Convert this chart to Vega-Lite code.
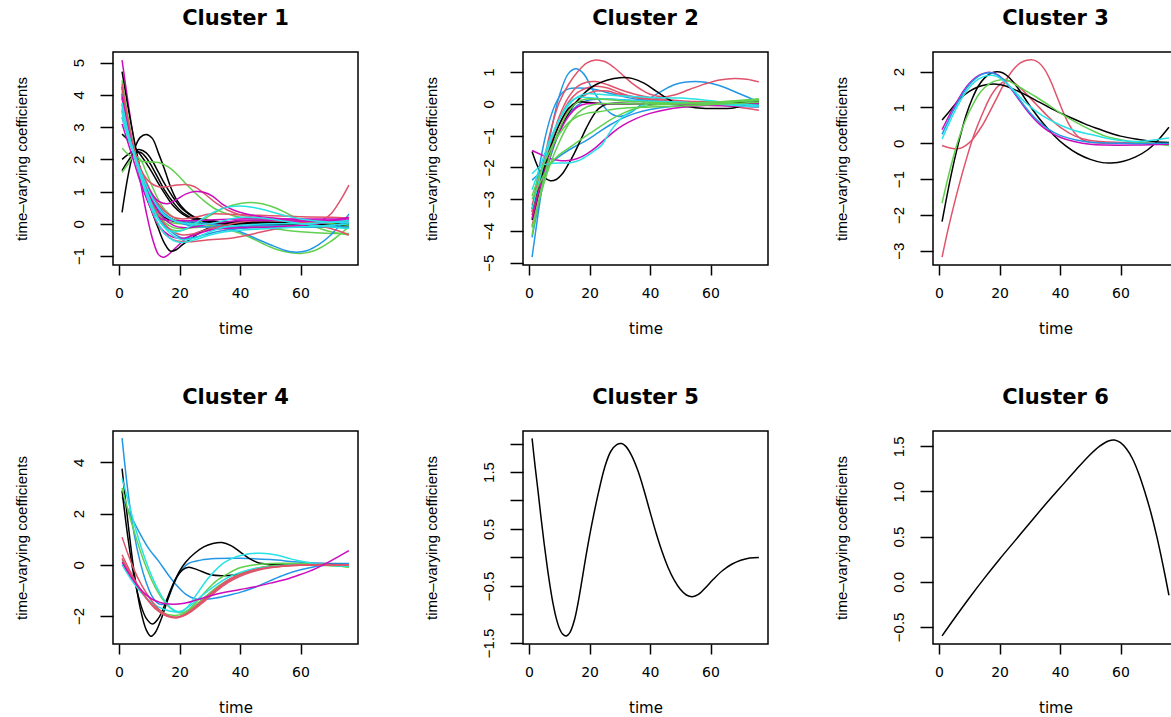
{
"$schema": "https://vega.github.io/schema/vega-lite/v6.json",
"autosize": {"type": "pad"},
"padding": {"left": 13, "top": 7, "right": 5, "bottom": 5},
"background": "white",
"columns": 3,
"bounds": "flush",
"spacing": {"row": 166, "column": 165},
"config": {
  "view": {"stroke": "#000", "strokeWidth": 1.5},
  "title": {"font": "DejaVu Sans", "fontSize": 21, "fontWeight": "bold", "color": "#000", "offset": 23, "frame": "group", "anchor": "middle", "baseline": "alphabetic"},
  "axis": {"grid": false, "domain": false, "tickColor": "#000", "tickWidth": 1.5, "labelColor": "#000", "titleColor": "#000", "labelFlush": false, "labelOverlap": false, "titleFontWeight": "normal"},
  "axisX": {"tickSize": 10, "labelPadding": 11, "labelFont": "DejaVu Sans", "labelFontSize": 14, "titleFont": "DejaVu Sans", "titleFontSize": 15, "titlePadding": 21, "minExtent": 35, "maxExtent": 35},
  "axisY": {"tickSize": 13, "labelPadding": 14, "labelAngle": -90, "labelAlign": "center", "labelBaseline": "bottom", "labelFont": "Liberation Sans", "labelFontSize": 15, "titleFont": "Liberation Sans", "titleFontSize": 15, "titlePadding": 39, "minExtent": 45, "maxExtent": 45}
},
"data": {"values": [
{"p":1,"s":"1M1","k":"m","t":1,"v":5.08},{"p":1,"s":"1M1","k":"m","t":3,"v":3.75},{"p":1,"s":"1M1","k":"m","t":5,"v":2.5},{"p":1,"s":"1M1","k":"m","t":7,"v":1.35},{"p":1,"s":"1M1","k":"m","t":9,"v":0.35},{"p":1,"s":"1M1","k":"m","t":11,"v":-0.45},{"p":1,"s":"1M1","k":"m","t":13,"v":-0.95},{"p":1,"s":"1M1","k":"m","t":14.5,"v":-1.04},{"p":1,"s":"1M1","k":"m","t":16,"v":-0.98},{"p":1,"s":"1M1","k":"m","t":19,"v":-0.72},{"p":1,"s":"1M1","k":"m","t":22,"v":-0.47},{"p":1,"s":"1M1","k":"m","t":26,"v":-0.27},{"p":1,"s":"1M1","k":"m","t":30,"v":-0.18},{"p":1,"s":"1M1","k":"m","t":40,"v":-0.1},{"p":1,"s":"1M1","k":"m","t":50,"v":-0.05},{"p":1,"s":"1M1","k":"m","t":60,"v":0},{"p":1,"s":"1M1","k":"m","t":70,"v":0.05},{"p":1,"s":"1M1","k":"m","t":76,"v":0.05},
{"p":1,"s":"1K1","k":"k","t":1,"v":0.35},{"p":1,"s":"1K1","k":"k","t":3,"v":1.5},{"p":1,"s":"1K1","k":"k","t":5,"v":2.3},{"p":1,"s":"1K1","k":"k","t":7,"v":2.68},{"p":1,"s":"1K1","k":"k","t":9,"v":2.77},{"p":1,"s":"1K1","k":"k","t":11,"v":2.65},{"p":1,"s":"1K1","k":"k","t":13,"v":2.2},{"p":1,"s":"1K1","k":"k","t":15,"v":1.7},{"p":1,"s":"1K1","k":"k","t":17,"v":1.15},{"p":1,"s":"1K1","k":"k","t":19,"v":0.75},{"p":1,"s":"1K1","k":"k","t":22,"v":0.4},{"p":1,"s":"1K1","k":"k","t":26,"v":0.15},{"p":1,"s":"1K1","k":"k","t":30,"v":0.05},{"p":1,"s":"1K1","k":"k","t":40,"v":0},{"p":1,"s":"1K1","k":"k","t":50,"v":0},{"p":1,"s":"1K1","k":"k","t":60,"v":0},{"p":1,"s":"1K1","k":"k","t":70,"v":-0.03},{"p":1,"s":"1K1","k":"k","t":76,"v":-0.05},
{"p":1,"s":"1K2","k":"k","t":1,"v":4.72},{"p":1,"s":"1K2","k":"k","t":3,"v":3.6},{"p":1,"s":"1K2","k":"k","t":5,"v":2.6},{"p":1,"s":"1K2","k":"k","t":7,"v":1.7},{"p":1,"s":"1K2","k":"k","t":9,"v":0.95},{"p":1,"s":"1K2","k":"k","t":11,"v":0.35},{"p":1,"s":"1K2","k":"k","t":13,"v":-0.15},{"p":1,"s":"1K2","k":"k","t":15,"v":-0.6},{"p":1,"s":"1K2","k":"k","t":17,"v":-0.85},{"p":1,"s":"1K2","k":"k","t":19,"v":-0.8},{"p":1,"s":"1K2","k":"k","t":21,"v":-0.65},{"p":1,"s":"1K2","k":"k","t":24,"v":-0.45},{"p":1,"s":"1K2","k":"k","t":27,"v":-0.25},{"p":1,"s":"1K2","k":"k","t":30,"v":-0.12},{"p":1,"s":"1K2","k":"k","t":35,"v":-0.05},{"p":1,"s":"1K2","k":"k","t":40,"v":0},{"p":1,"s":"1K2","k":"k","t":50,"v":0},{"p":1,"s":"1K2","k":"k","t":60,"v":0},{"p":1,"s":"1K2","k":"k","t":70,"v":0},{"p":1,"s":"1K2","k":"k","t":76,"v":-0.02},
{"p":1,"s":"1K3","k":"k","t":1,"v":2.0},{"p":1,"s":"1K3","k":"k","t":3,"v":2.15},{"p":1,"s":"1K3","k":"k","t":5,"v":2.27},{"p":1,"s":"1K3","k":"k","t":7,"v":2.3},{"p":1,"s":"1K3","k":"k","t":9,"v":2.2},{"p":1,"s":"1K3","k":"k","t":11,"v":1.95},{"p":1,"s":"1K3","k":"k","t":13,"v":1.6},{"p":1,"s":"1K3","k":"k","t":15,"v":1.25},{"p":1,"s":"1K3","k":"k","t":18,"v":0.8},{"p":1,"s":"1K3","k":"k","t":21,"v":0.45},{"p":1,"s":"1K3","k":"k","t":25,"v":0.2},{"p":1,"s":"1K3","k":"k","t":30,"v":0.1},{"p":1,"s":"1K3","k":"k","t":35,"v":0.05},{"p":1,"s":"1K3","k":"k","t":40,"v":0.05},{"p":1,"s":"1K3","k":"k","t":50,"v":0.05},{"p":1,"s":"1K3","k":"k","t":60,"v":0.05},{"p":1,"s":"1K3","k":"k","t":70,"v":0},{"p":1,"s":"1K3","k":"k","t":76,"v":-0.05},
{"p":1,"s":"1K4","k":"k","t":1,"v":2.78},{"p":1,"s":"1K4","k":"k","t":3,"v":2.6},{"p":1,"s":"1K4","k":"k","t":5,"v":2.38},{"p":1,"s":"1K4","k":"k","t":7,"v":2.15},{"p":1,"s":"1K4","k":"k","t":9,"v":1.88},{"p":1,"s":"1K4","k":"k","t":11,"v":1.58},{"p":1,"s":"1K4","k":"k","t":13,"v":1.25},{"p":1,"s":"1K4","k":"k","t":15,"v":0.95},{"p":1,"s":"1K4","k":"k","t":18,"v":0.55},{"p":1,"s":"1K4","k":"k","t":21,"v":0.3},{"p":1,"s":"1K4","k":"k","t":25,"v":0.12},{"p":1,"s":"1K4","k":"k","t":30,"v":0.05},{"p":1,"s":"1K4","k":"k","t":35,"v":0.05},{"p":1,"s":"1K4","k":"k","t":40,"v":0.05},{"p":1,"s":"1K4","k":"k","t":50,"v":0.05},{"p":1,"s":"1K4","k":"k","t":60,"v":0},{"p":1,"s":"1K4","k":"k","t":70,"v":-0.05},{"p":1,"s":"1K4","k":"k","t":76,"v":-0.1},
{"p":1,"s":"1K5","k":"k","t":1,"v":1.65},{"p":1,"s":"1K5","k":"k","t":3,"v":1.95},{"p":1,"s":"1K5","k":"k","t":5,"v":2.18},{"p":1,"s":"1K5","k":"k","t":7,"v":2.22},{"p":1,"s":"1K5","k":"k","t":9,"v":2.05},{"p":1,"s":"1K5","k":"k","t":11,"v":1.75},{"p":1,"s":"1K5","k":"k","t":13,"v":1.4},{"p":1,"s":"1K5","k":"k","t":15,"v":1.05},{"p":1,"s":"1K5","k":"k","t":18,"v":0.65},{"p":1,"s":"1K5","k":"k","t":21,"v":0.35},{"p":1,"s":"1K5","k":"k","t":25,"v":0.15},{"p":1,"s":"1K5","k":"k","t":30,"v":0.08},{"p":1,"s":"1K5","k":"k","t":35,"v":0.05},{"p":1,"s":"1K5","k":"k","t":40,"v":0.02},{"p":1,"s":"1K5","k":"k","t":50,"v":0},{"p":1,"s":"1K5","k":"k","t":60,"v":0},{"p":1,"s":"1K5","k":"k","t":70,"v":0},{"p":1,"s":"1K5","k":"k","t":76,"v":0},
{"p":1,"s":"1K6","k":"k","t":1,"v":4.02},{"p":1,"s":"1K6","k":"k","t":3,"v":3.05},{"p":1,"s":"1K6","k":"k","t":5,"v":2.3},{"p":1,"s":"1K6","k":"k","t":7,"v":1.7},{"p":1,"s":"1K6","k":"k","t":9,"v":1.2},{"p":1,"s":"1K6","k":"k","t":11,"v":0.8},{"p":1,"s":"1K6","k":"k","t":13,"v":0.5},{"p":1,"s":"1K6","k":"k","t":15,"v":0.3},{"p":1,"s":"1K6","k":"k","t":18,"v":0.12},{"p":1,"s":"1K6","k":"k","t":21,"v":0.05},{"p":1,"s":"1K6","k":"k","t":25,"v":0.02},{"p":1,"s":"1K6","k":"k","t":30,"v":0},{"p":1,"s":"1K6","k":"k","t":35,"v":0},{"p":1,"s":"1K6","k":"k","t":40,"v":0},{"p":1,"s":"1K6","k":"k","t":50,"v":0},{"p":1,"s":"1K6","k":"k","t":60,"v":-0.05},{"p":1,"s":"1K6","k":"k","t":70,"v":-0.05},{"p":1,"s":"1K6","k":"k","t":76,"v":-0.08},
{"p":1,"s":"1K7","k":"k","t":1,"v":4.25},{"p":1,"s":"1K7","k":"k","t":3,"v":3.15},{"p":1,"s":"1K7","k":"k","t":5,"v":2.3},{"p":1,"s":"1K7","k":"k","t":7,"v":1.65},{"p":1,"s":"1K7","k":"k","t":9,"v":1.1},{"p":1,"s":"1K7","k":"k","t":11,"v":0.68},{"p":1,"s":"1K7","k":"k","t":13,"v":0.38},{"p":1,"s":"1K7","k":"k","t":15,"v":0.2},{"p":1,"s":"1K7","k":"k","t":18,"v":0.08},{"p":1,"s":"1K7","k":"k","t":21,"v":0.05},{"p":1,"s":"1K7","k":"k","t":30,"v":0.05},{"p":1,"s":"1K7","k":"k","t":40,"v":0.05},{"p":1,"s":"1K7","k":"k","t":50,"v":0.05},{"p":1,"s":"1K7","k":"k","t":60,"v":0.05},{"p":1,"s":"1K7","k":"k","t":70,"v":0.05},{"p":1,"s":"1K7","k":"k","t":76,"v":0},
{"p":1,"s":"1G1","k":"g","t":1,"v":2.34},{"p":1,"s":"1G1","k":"g","t":4,"v":2.08},{"p":1,"s":"1G1","k":"g","t":7,"v":1.95},{"p":1,"s":"1G1","k":"g","t":10,"v":1.92},{"p":1,"s":"1G1","k":"g","t":13,"v":1.9},{"p":1,"s":"1G1","k":"g","t":16,"v":1.78},{"p":1,"s":"1G1","k":"g","t":19,"v":1.55},{"p":1,"s":"1G1","k":"g","t":22,"v":1.25},{"p":1,"s":"1G1","k":"g","t":25,"v":0.97},{"p":1,"s":"1G1","k":"g","t":28,"v":0.72},{"p":1,"s":"1G1","k":"g","t":32,"v":0.45},{"p":1,"s":"1G1","k":"g","t":36,"v":0.3},{"p":1,"s":"1G1","k":"g","t":40,"v":0.2},{"p":1,"s":"1G1","k":"g","t":50,"v":0.1},{"p":1,"s":"1G1","k":"g","t":60,"v":0.05},{"p":1,"s":"1G1","k":"g","t":70,"v":0},{"p":1,"s":"1G1","k":"g","t":76,"v":-0.05},
{"p":1,"s":"1G2","k":"g","t":1,"v":1.6},{"p":1,"s":"1G2","k":"g","t":3,"v":1.85},{"p":1,"s":"1G2","k":"g","t":5,"v":2.1},{"p":1,"s":"1G2","k":"g","t":7,"v":2.0},{"p":1,"s":"1G2","k":"g","t":9,"v":1.6},{"p":1,"s":"1G2","k":"g","t":11,"v":1.15},{"p":1,"s":"1G2","k":"g","t":13,"v":0.75},{"p":1,"s":"1G2","k":"g","t":15,"v":0.45},{"p":1,"s":"1G2","k":"g","t":18,"v":0.2},{"p":1,"s":"1G2","k":"g","t":21,"v":0.05},{"p":1,"s":"1G2","k":"g","t":25,"v":-0.05},{"p":1,"s":"1G2","k":"g","t":30,"v":-0.1},{"p":1,"s":"1G2","k":"g","t":40,"v":-0.1},{"p":1,"s":"1G2","k":"g","t":50,"v":-0.1},{"p":1,"s":"1G2","k":"g","t":60,"v":-0.1},{"p":1,"s":"1G2","k":"g","t":70,"v":-0.1},{"p":1,"s":"1G2","k":"g","t":76,"v":-0.1},
{"p":1,"s":"1G3","k":"g","t":1,"v":4.45},{"p":1,"s":"1G3","k":"g","t":3,"v":3.3},{"p":1,"s":"1G3","k":"g","t":5,"v":2.35},{"p":1,"s":"1G3","k":"g","t":7,"v":1.6},{"p":1,"s":"1G3","k":"g","t":9,"v":1.0},{"p":1,"s":"1G3","k":"g","t":11,"v":0.5},{"p":1,"s":"1G3","k":"g","t":13,"v":0.15},{"p":1,"s":"1G3","k":"g","t":15,"v":-0.05},{"p":1,"s":"1G3","k":"g","t":18,"v":-0.2},{"p":1,"s":"1G3","k":"g","t":21,"v":-0.2},{"p":1,"s":"1G3","k":"g","t":25,"v":-0.05},{"p":1,"s":"1G3","k":"g","t":30,"v":0.25},{"p":1,"s":"1G3","k":"g","t":35,"v":0.5},{"p":1,"s":"1G3","k":"g","t":40,"v":0.63},{"p":1,"s":"1G3","k":"g","t":45,"v":0.65},{"p":1,"s":"1G3","k":"g","t":50,"v":0.55},{"p":1,"s":"1G3","k":"g","t":55,"v":0.35},{"p":1,"s":"1G3","k":"g","t":60,"v":0.1},{"p":1,"s":"1G3","k":"g","t":65,"v":-0.1},{"p":1,"s":"1G3","k":"g","t":70,"v":-0.25},{"p":1,"s":"1G3","k":"g","t":76,"v":-0.35},
{"p":1,"s":"1G4","k":"g","t":1,"v":4.3},{"p":1,"s":"1G4","k":"g","t":3,"v":3.2},{"p":1,"s":"1G4","k":"g","t":5,"v":2.3},{"p":1,"s":"1G4","k":"g","t":7,"v":1.6},{"p":1,"s":"1G4","k":"g","t":9,"v":1.05},{"p":1,"s":"1G4","k":"g","t":11,"v":0.6},{"p":1,"s":"1G4","k":"g","t":13,"v":0.3},{"p":1,"s":"1G4","k":"g","t":15,"v":0.12},{"p":1,"s":"1G4","k":"g","t":18,"v":0.02},{"p":1,"s":"1G4","k":"g","t":21,"v":0},{"p":1,"s":"1G4","k":"g","t":25,"v":0},{"p":1,"s":"1G4","k":"g","t":30,"v":-0.05},{"p":1,"s":"1G4","k":"g","t":35,"v":-0.15},{"p":1,"s":"1G4","k":"g","t":40,"v":-0.3},{"p":1,"s":"1G4","k":"g","t":45,"v":-0.5},{"p":1,"s":"1G4","k":"g","t":50,"v":-0.72},{"p":1,"s":"1G4","k":"g","t":55,"v":-0.87},{"p":1,"s":"1G4","k":"g","t":60,"v":-0.92},{"p":1,"s":"1G4","k":"g","t":65,"v":-0.82},{"p":1,"s":"1G4","k":"g","t":70,"v":-0.55},{"p":1,"s":"1G4","k":"g","t":74,"v":-0.25},{"p":1,"s":"1G4","k":"g","t":76,"v":-0.1},
{"p":1,"s":"1G5","k":"g","t":1,"v":4.0},{"p":1,"s":"1G5","k":"g","t":3,"v":3.05},{"p":1,"s":"1G5","k":"g","t":5,"v":2.3},{"p":1,"s":"1G5","k":"g","t":7,"v":1.65},{"p":1,"s":"1G5","k":"g","t":9,"v":1.1},{"p":1,"s":"1G5","k":"g","t":11,"v":0.65},{"p":1,"s":"1G5","k":"g","t":13,"v":0.3},{"p":1,"s":"1G5","k":"g","t":15,"v":0.05},{"p":1,"s":"1G5","k":"g","t":18,"v":-0.12},{"p":1,"s":"1G5","k":"g","t":21,"v":-0.15},{"p":1,"s":"1G5","k":"g","t":25,"v":-0.12},{"p":1,"s":"1G5","k":"g","t":30,"v":-0.08},{"p":1,"s":"1G5","k":"g","t":40,"v":-0.1},{"p":1,"s":"1G5","k":"g","t":50,"v":-0.15},{"p":1,"s":"1G5","k":"g","t":60,"v":-0.25},{"p":1,"s":"1G5","k":"g","t":70,"v":-0.3},{"p":1,"s":"1G5","k":"g","t":76,"v":-0.3},
{"p":1,"s":"1B1","k":"b","t":1,"v":3.9},{"p":1,"s":"1B1","k":"b","t":3,"v":2.95},{"p":1,"s":"1B1","k":"b","t":5,"v":2.25},{"p":1,"s":"1B1","k":"b","t":7,"v":1.65},{"p":1,"s":"1B1","k":"b","t":9,"v":1.15},{"p":1,"s":"1B1","k":"b","t":11,"v":0.75},{"p":1,"s":"1B1","k":"b","t":13,"v":0.45},{"p":1,"s":"1B1","k":"b","t":15,"v":0.25},{"p":1,"s":"1B1","k":"b","t":18,"v":0.1},{"p":1,"s":"1B1","k":"b","t":21,"v":0.05},{"p":1,"s":"1B1","k":"b","t":25,"v":0.05},{"p":1,"s":"1B1","k":"b","t":30,"v":0},{"p":1,"s":"1B1","k":"b","t":35,"v":-0.1},{"p":1,"s":"1B1","k":"b","t":40,"v":-0.25},{"p":1,"s":"1B1","k":"b","t":45,"v":-0.45},{"p":1,"s":"1B1","k":"b","t":50,"v":-0.65},{"p":1,"s":"1B1","k":"b","t":55,"v":-0.83},{"p":1,"s":"1B1","k":"b","t":58,"v":-0.88},{"p":1,"s":"1B1","k":"b","t":62,"v":-0.84},{"p":1,"s":"1B1","k":"b","t":66,"v":-0.65},{"p":1,"s":"1B1","k":"b","t":70,"v":-0.35},{"p":1,"s":"1B1","k":"b","t":73,"v":-0.05},{"p":1,"s":"1B1","k":"b","t":76,"v":0.3},
{"p":1,"s":"1B2","k":"b","t":1,"v":4.1},{"p":1,"s":"1B2","k":"b","t":3,"v":3.0},{"p":1,"s":"1B2","k":"b","t":5,"v":2.2},{"p":1,"s":"1B2","k":"b","t":7,"v":1.55},{"p":1,"s":"1B2","k":"b","t":9,"v":1.0},{"p":1,"s":"1B2","k":"b","t":11,"v":0.55},{"p":1,"s":"1B2","k":"b","t":13,"v":0.2},{"p":1,"s":"1B2","k":"b","t":15,"v":-0.05},{"p":1,"s":"1B2","k":"b","t":18,"v":-0.3},{"p":1,"s":"1B2","k":"b","t":21,"v":-0.45},{"p":1,"s":"1B2","k":"b","t":25,"v":-0.42},{"p":1,"s":"1B2","k":"b","t":30,"v":-0.3},{"p":1,"s":"1B2","k":"b","t":35,"v":-0.2},{"p":1,"s":"1B2","k":"b","t":40,"v":-0.15},{"p":1,"s":"1B2","k":"b","t":50,"v":-0.1},{"p":1,"s":"1B2","k":"b","t":60,"v":-0.1},{"p":1,"s":"1B2","k":"b","t":70,"v":-0.05},{"p":1,"s":"1B2","k":"b","t":76,"v":0.05},
{"p":1,"s":"1B3","k":"b","t":1,"v":3.55},{"p":1,"s":"1B3","k":"b","t":3,"v":2.75},{"p":1,"s":"1B3","k":"b","t":5,"v":2.2},{"p":1,"s":"1B3","k":"b","t":7,"v":1.7},{"p":1,"s":"1B3","k":"b","t":9,"v":1.25},{"p":1,"s":"1B3","k":"b","t":11,"v":0.85},{"p":1,"s":"1B3","k":"b","t":13,"v":0.55},{"p":1,"s":"1B3","k":"b","t":15,"v":0.32},{"p":1,"s":"1B3","k":"b","t":18,"v":0.12},{"p":1,"s":"1B3","k":"b","t":21,"v":0},{"p":1,"s":"1B3","k":"b","t":25,"v":-0.08},{"p":1,"s":"1B3","k":"b","t":30,"v":-0.1},{"p":1,"s":"1B3","k":"b","t":40,"v":-0.08},{"p":1,"s":"1B3","k":"b","t":50,"v":-0.05},{"p":1,"s":"1B3","k":"b","t":60,"v":-0.1},{"p":1,"s":"1B3","k":"b","t":70,"v":-0.1},{"p":1,"s":"1B3","k":"b","t":76,"v":-0.1},
{"p":1,"s":"1R1","k":"r","t":1,"v":4.2},{"p":1,"s":"1R1","k":"r","t":3,"v":3.1},{"p":1,"s":"1R1","k":"r","t":5,"v":2.2},{"p":1,"s":"1R1","k":"r","t":7,"v":1.45},{"p":1,"s":"1R1","k":"r","t":9,"v":0.85},{"p":1,"s":"1R1","k":"r","t":11,"v":0.35},{"p":1,"s":"1R1","k":"r","t":13,"v":-0.05},{"p":1,"s":"1R1","k":"r","t":15,"v":-0.3},{"p":1,"s":"1R1","k":"r","t":18,"v":-0.5},{"p":1,"s":"1R1","k":"r","t":21,"v":-0.55},{"p":1,"s":"1R1","k":"r","t":25,"v":-0.55},{"p":1,"s":"1R1","k":"r","t":30,"v":-0.5},{"p":1,"s":"1R1","k":"r","t":37,"v":-0.45},{"p":1,"s":"1R1","k":"r","t":45,"v":-0.3},{"p":1,"s":"1R1","k":"r","t":55,"v":-0.1},{"p":1,"s":"1R1","k":"r","t":62,"v":0},{"p":1,"s":"1R1","k":"r","t":67,"v":0.1},{"p":1,"s":"1R1","k":"r","t":70,"v":0.3},{"p":1,"s":"1R1","k":"r","t":73,"v":0.7},{"p":1,"s":"1R1","k":"r","t":76,"v":1.2},
{"p":1,"s":"1R2","k":"r","t":1,"v":3.5},{"p":1,"s":"1R2","k":"r","t":3,"v":2.7},{"p":1,"s":"1R2","k":"r","t":5,"v":2.15},{"p":1,"s":"1R2","k":"r","t":7,"v":1.7},{"p":1,"s":"1R2","k":"r","t":10,"v":1.3},{"p":1,"s":"1R2","k":"r","t":13,"v":1.15},{"p":1,"s":"1R2","k":"r","t":16,"v":1.15},{"p":1,"s":"1R2","k":"r","t":19,"v":1.2},{"p":1,"s":"1R2","k":"r","t":22,"v":1.22},{"p":1,"s":"1R2","k":"r","t":25,"v":1.15},{"p":1,"s":"1R2","k":"r","t":28,"v":0.95},{"p":1,"s":"1R2","k":"r","t":32,"v":0.65},{"p":1,"s":"1R2","k":"r","t":36,"v":0.42},{"p":1,"s":"1R2","k":"r","t":40,"v":0.28},{"p":1,"s":"1R2","k":"r","t":50,"v":0.15},{"p":1,"s":"1R2","k":"r","t":60,"v":0.1},{"p":1,"s":"1R2","k":"r","t":70,"v":0.05},{"p":1,"s":"1R2","k":"r","t":76,"v":0.05},
{"p":1,"s":"1R3","k":"r","t":1,"v":4.35},{"p":1,"s":"1R3","k":"r","t":3,"v":3.2},{"p":1,"s":"1R3","k":"r","t":5,"v":2.3},{"p":1,"s":"1R3","k":"r","t":7,"v":1.6},{"p":1,"s":"1R3","k":"r","t":9,"v":1.05},{"p":1,"s":"1R3","k":"r","t":11,"v":0.6},{"p":1,"s":"1R3","k":"r","t":13,"v":0.25},{"p":1,"s":"1R3","k":"r","t":15,"v":0},{"p":1,"s":"1R3","k":"r","t":18,"v":-0.25},{"p":1,"s":"1R3","k":"r","t":21,"v":-0.35},{"p":1,"s":"1R3","k":"r","t":25,"v":-0.3},{"p":1,"s":"1R3","k":"r","t":30,"v":-0.15},{"p":1,"s":"1R3","k":"r","t":35,"v":-0.05},{"p":1,"s":"1R3","k":"r","t":40,"v":0.05},{"p":1,"s":"1R3","k":"r","t":50,"v":0.1},{"p":1,"s":"1R3","k":"r","t":60,"v":0.05},{"p":1,"s":"1R3","k":"r","t":70,"v":-0.15},{"p":1,"s":"1R3","k":"r","t":76,"v":-0.35},
{"p":1,"s":"1R4","k":"r","t":1,"v":3.9},{"p":1,"s":"1R4","k":"r","t":3,"v":3.0},{"p":1,"s":"1R4","k":"r","t":5,"v":2.3},{"p":1,"s":"1R4","k":"r","t":7,"v":1.75},{"p":1,"s":"1R4","k":"r","t":9,"v":1.3},{"p":1,"s":"1R4","k":"r","t":11,"v":0.92},{"p":1,"s":"1R4","k":"r","t":13,"v":0.62},{"p":1,"s":"1R4","k":"r","t":15,"v":0.4},{"p":1,"s":"1R4","k":"r","t":18,"v":0.2},{"p":1,"s":"1R4","k":"r","t":21,"v":0.15},{"p":1,"s":"1R4","k":"r","t":25,"v":0.2},{"p":1,"s":"1R4","k":"r","t":30,"v":0.3},{"p":1,"s":"1R4","k":"r","t":35,"v":0.3},{"p":1,"s":"1R4","k":"r","t":40,"v":0.28},{"p":1,"s":"1R4","k":"r","t":50,"v":0.25},{"p":1,"s":"1R4","k":"r","t":60,"v":0.22},{"p":1,"s":"1R4","k":"r","t":70,"v":0.2},{"p":1,"s":"1R4","k":"r","t":76,"v":0.18},
{"p":1,"s":"1M2","k":"m","t":1,"v":3.3},{"p":1,"s":"1M2","k":"m","t":3,"v":2.7},{"p":1,"s":"1M2","k":"m","t":5,"v":2.15},{"p":1,"s":"1M2","k":"m","t":7,"v":1.6},{"p":1,"s":"1M2","k":"m","t":10,"v":1.05},{"p":1,"s":"1M2","k":"m","t":13,"v":0.7},{"p":1,"s":"1M2","k":"m","t":16,"v":0.62},{"p":1,"s":"1M2","k":"m","t":19,"v":0.75},{"p":1,"s":"1M2","k":"m","t":22,"v":0.92},{"p":1,"s":"1M2","k":"m","t":25,"v":1.0},{"p":1,"s":"1M2","k":"m","t":28,"v":0.98},{"p":1,"s":"1M2","k":"m","t":31,"v":0.85},{"p":1,"s":"1M2","k":"m","t":34,"v":0.62},{"p":1,"s":"1M2","k":"m","t":38,"v":0.42},{"p":1,"s":"1M2","k":"m","t":45,"v":0.25},{"p":1,"s":"1M2","k":"m","t":55,"v":0.15},{"p":1,"s":"1M2","k":"m","t":65,"v":0.12},{"p":1,"s":"1M2","k":"m","t":76,"v":0.1},
{"p":1,"s":"1M3","k":"m","t":1,"v":3.1},{"p":1,"s":"1M3","k":"m","t":3,"v":2.5},{"p":1,"s":"1M3","k":"m","t":5,"v":1.9},{"p":1,"s":"1M3","k":"m","t":7,"v":1.3},{"p":1,"s":"1M3","k":"m","t":9,"v":0.8},{"p":1,"s":"1M3","k":"m","t":11,"v":0.4},{"p":1,"s":"1M3","k":"m","t":13,"v":0.2},{"p":1,"s":"1M3","k":"m","t":15,"v":0.12},{"p":1,"s":"1M3","k":"m","t":18,"v":0.1},{"p":1,"s":"1M3","k":"m","t":25,"v":0.1},{"p":1,"s":"1M3","k":"m","t":30,"v":0.12},{"p":1,"s":"1M3","k":"m","t":40,"v":0.15},{"p":1,"s":"1M3","k":"m","t":50,"v":0.15},{"p":1,"s":"1M3","k":"m","t":60,"v":0.15},{"p":1,"s":"1M3","k":"m","t":70,"v":0.15},{"p":1,"s":"1M3","k":"m","t":76,"v":0.15},
{"p":1,"s":"1M4","k":"m","t":1,"v":3.7},{"p":1,"s":"1M4","k":"m","t":3,"v":2.85},{"p":1,"s":"1M4","k":"m","t":5,"v":2.2},{"p":1,"s":"1M4","k":"m","t":7,"v":1.62},{"p":1,"s":"1M4","k":"m","t":9,"v":1.12},{"p":1,"s":"1M4","k":"m","t":11,"v":0.7},{"p":1,"s":"1M4","k":"m","t":13,"v":0.38},{"p":1,"s":"1M4","k":"m","t":15,"v":0.15},{"p":1,"s":"1M4","k":"m","t":18,"v":-0.05},{"p":1,"s":"1M4","k":"m","t":21,"v":-0.12},{"p":1,"s":"1M4","k":"m","t":25,"v":-0.1},{"p":1,"s":"1M4","k":"m","t":30,"v":0},{"p":1,"s":"1M4","k":"m","t":35,"v":0.05},{"p":1,"s":"1M4","k":"m","t":40,"v":0.1},{"p":1,"s":"1M4","k":"m","t":50,"v":0.1},{"p":1,"s":"1M4","k":"m","t":60,"v":0.08},{"p":1,"s":"1M4","k":"m","t":70,"v":0.1},{"p":1,"s":"1M4","k":"m","t":76,"v":0.2},
{"p":1,"s":"1M5","k":"m","t":1,"v":3.95},{"p":1,"s":"1M5","k":"m","t":3,"v":2.95},{"p":1,"s":"1M5","k":"m","t":5,"v":2.15},{"p":1,"s":"1M5","k":"m","t":7,"v":1.45},{"p":1,"s":"1M5","k":"m","t":9,"v":0.85},{"p":1,"s":"1M5","k":"m","t":11,"v":0.35},{"p":1,"s":"1M5","k":"m","t":13,"v":-0.02},{"p":1,"s":"1M5","k":"m","t":15,"v":-0.25},{"p":1,"s":"1M5","k":"m","t":18,"v":-0.42},{"p":1,"s":"1M5","k":"m","t":21,"v":-0.45},{"p":1,"s":"1M5","k":"m","t":25,"v":-0.35},{"p":1,"s":"1M5","k":"m","t":30,"v":-0.2},{"p":1,"s":"1M5","k":"m","t":35,"v":-0.15},{"p":1,"s":"1M5","k":"m","t":40,"v":-0.12},{"p":1,"s":"1M5","k":"m","t":50,"v":-0.1},{"p":1,"s":"1M5","k":"m","t":60,"v":-0.05},{"p":1,"s":"1M5","k":"m","t":70,"v":0.05},{"p":1,"s":"1M5","k":"m","t":76,"v":0.1},
{"p":1,"s":"1C1","k":"c","t":1,"v":3.6},{"p":1,"s":"1C1","k":"c","t":3,"v":2.8},{"p":1,"s":"1C1","k":"c","t":5,"v":2.2},{"p":1,"s":"1C1","k":"c","t":7,"v":1.6},{"p":1,"s":"1C1","k":"c","t":9,"v":1.05},{"p":1,"s":"1C1","k":"c","t":11,"v":0.55},{"p":1,"s":"1C1","k":"c","t":13,"v":0.15},{"p":1,"s":"1C1","k":"c","t":15,"v":-0.1},{"p":1,"s":"1C1","k":"c","t":18,"v":-0.25},{"p":1,"s":"1C1","k":"c","t":21,"v":-0.2},{"p":1,"s":"1C1","k":"c","t":25,"v":0},{"p":1,"s":"1C1","k":"c","t":30,"v":0.3},{"p":1,"s":"1C1","k":"c","t":35,"v":0.5},{"p":1,"s":"1C1","k":"c","t":40,"v":0.55},{"p":1,"s":"1C1","k":"c","t":45,"v":0.5},{"p":1,"s":"1C1","k":"c","t":50,"v":0.38},{"p":1,"s":"1C1","k":"c","t":55,"v":0.25},{"p":1,"s":"1C1","k":"c","t":60,"v":0.15},{"p":1,"s":"1C1","k":"c","t":70,"v":0.05},{"p":1,"s":"1C1","k":"c","t":76,"v":0.05},
{"p":1,"s":"1C2","k":"c","t":1,"v":3.75},{"p":1,"s":"1C2","k":"c","t":3,"v":2.85},{"p":1,"s":"1C2","k":"c","t":5,"v":2.15},{"p":1,"s":"1C2","k":"c","t":7,"v":1.5},{"p":1,"s":"1C2","k":"c","t":9,"v":0.9},{"p":1,"s":"1C2","k":"c","t":11,"v":0.4},{"p":1,"s":"1C2","k":"c","t":13,"v":0},{"p":1,"s":"1C2","k":"c","t":15,"v":-0.3},{"p":1,"s":"1C2","k":"c","t":18,"v":-0.52},{"p":1,"s":"1C2","k":"c","t":21,"v":-0.58},{"p":1,"s":"1C2","k":"c","t":25,"v":-0.5},{"p":1,"s":"1C2","k":"c","t":30,"v":-0.35},{"p":1,"s":"1C2","k":"c","t":35,"v":-0.25},{"p":1,"s":"1C2","k":"c","t":40,"v":-0.2},{"p":1,"s":"1C2","k":"c","t":50,"v":-0.15},{"p":1,"s":"1C2","k":"c","t":60,"v":-0.1},{"p":1,"s":"1C2","k":"c","t":70,"v":-0.05},{"p":1,"s":"1C2","k":"c","t":76,"v":0},
{"p":1,"s":"1C3","k":"c","t":1,"v":3.45},{"p":1,"s":"1C3","k":"c","t":3,"v":2.7},{"p":1,"s":"1C3","k":"c","t":5,"v":2.1},{"p":1,"s":"1C3","k":"c","t":7,"v":1.5},{"p":1,"s":"1C3","k":"c","t":9,"v":0.95},{"p":1,"s":"1C3","k":"c","t":11,"v":0.5},{"p":1,"s":"1C3","k":"c","t":13,"v":0.15},{"p":1,"s":"1C3","k":"c","t":15,"v":-0.12},{"p":1,"s":"1C3","k":"c","t":18,"v":-0.38},{"p":1,"s":"1C3","k":"c","t":21,"v":-0.5},{"p":1,"s":"1C3","k":"c","t":25,"v":-0.45},{"p":1,"s":"1C3","k":"c","t":30,"v":-0.25},{"p":1,"s":"1C3","k":"c","t":35,"v":-0.1},{"p":1,"s":"1C3","k":"c","t":40,"v":-0.05},{"p":1,"s":"1C3","k":"c","t":50,"v":0},{"p":1,"s":"1C3","k":"c","t":60,"v":0},{"p":1,"s":"1C3","k":"c","t":70,"v":0.05},{"p":1,"s":"1C3","k":"c","t":76,"v":0.1},
{"p":1,"s":"1C4","k":"c","t":1,"v":3.3},{"p":1,"s":"1C4","k":"c","t":3,"v":2.65},{"p":1,"s":"1C4","k":"c","t":5,"v":2.15},{"p":1,"s":"1C4","k":"c","t":7,"v":1.65},{"p":1,"s":"1C4","k":"c","t":9,"v":1.2},{"p":1,"s":"1C4","k":"c","t":11,"v":0.8},{"p":1,"s":"1C4","k":"c","t":13,"v":0.5},{"p":1,"s":"1C4","k":"c","t":15,"v":0.28},{"p":1,"s":"1C4","k":"c","t":18,"v":0.1},{"p":1,"s":"1C4","k":"c","t":21,"v":0.02},{"p":1,"s":"1C4","k":"c","t":25,"v":-0.02},{"p":1,"s":"1C4","k":"c","t":30,"v":0},{"p":1,"s":"1C4","k":"c","t":35,"v":0.1},{"p":1,"s":"1C4","k":"c","t":40,"v":0.2},{"p":1,"s":"1C4","k":"c","t":50,"v":0.15},{"p":1,"s":"1C4","k":"c","t":60,"v":0},{"p":1,"s":"1C4","k":"c","t":70,"v":-0.1},{"p":1,"s":"1C4","k":"c","t":76,"v":-0.15},
{"p":2,"s":"2B1","k":"b","t":1,"v":-4.82},{"p":2,"s":"2B1","k":"b","t":4,"v":-2.8},{"p":2,"s":"2B1","k":"b","t":7,"v":-1.0},{"p":2,"s":"2B1","k":"b","t":10,"v":0.25},{"p":2,"s":"2B1","k":"b","t":13,"v":0.95},{"p":2,"s":"2B1","k":"b","t":15.5,"v":1.1},{"p":2,"s":"2B1","k":"b","t":18,"v":0.95},{"p":2,"s":"2B1","k":"b","t":21,"v":0.45},{"p":2,"s":"2B1","k":"b","t":24,"v":0},{"p":2,"s":"2B1","k":"b","t":27,"v":-0.3},{"p":2,"s":"2B1","k":"b","t":30,"v":-0.4},{"p":2,"s":"2B1","k":"b","t":34,"v":-0.25},{"p":2,"s":"2B1","k":"b","t":38,"v":0.05},{"p":2,"s":"2B1","k":"b","t":43,"v":0.35},{"p":2,"s":"2B1","k":"b","t":48,"v":0.6},{"p":2,"s":"2B1","k":"b","t":55,"v":0.7},{"p":2,"s":"2B1","k":"b","t":62,"v":0.6},{"p":2,"s":"2B1","k":"b","t":70,"v":0.3},{"p":2,"s":"2B1","k":"b","t":76,"v":0.05},
{"p":2,"s":"2B3","k":"b","t":1,"v":-3.4},{"p":2,"s":"2B3","k":"b","t":3,"v":-2.2},{"p":2,"s":"2B3","k":"b","t":5,"v":-1.2},{"p":2,"s":"2B3","k":"b","t":7,"v":-0.45},{"p":2,"s":"2B3","k":"b","t":9,"v":0.05},{"p":2,"s":"2B3","k":"b","t":11,"v":0.35},{"p":2,"s":"2B3","k":"b","t":13,"v":0.47},{"p":2,"s":"2B3","k":"b","t":16,"v":0.5},{"p":2,"s":"2B3","k":"b","t":20,"v":0.48},{"p":2,"s":"2B3","k":"b","t":24,"v":0.4},{"p":2,"s":"2B3","k":"b","t":28,"v":0.3},{"p":2,"s":"2B3","k":"b","t":35,"v":0.15},{"p":2,"s":"2B3","k":"b","t":45,"v":0.08},{"p":2,"s":"2B3","k":"b","t":60,"v":0.05},{"p":2,"s":"2B3","k":"b","t":76,"v":0.05},
{"p":2,"s":"2B4","k":"b","t":1,"v":-2.4},{"p":2,"s":"2B4","k":"b","t":5,"v":-2.05},{"p":2,"s":"2B4","k":"b","t":10,"v":-1.65},{"p":2,"s":"2B4","k":"b","t":15,"v":-1.35},{"p":2,"s":"2B4","k":"b","t":19,"v":-1.15},{"p":2,"s":"2B4","k":"b","t":23,"v":-0.9},{"p":2,"s":"2B4","k":"b","t":27,"v":-0.65},{"p":2,"s":"2B4","k":"b","t":31,"v":-0.45},{"p":2,"s":"2B4","k":"b","t":35,"v":-0.3},{"p":2,"s":"2B4","k":"b","t":40,"v":-0.18},{"p":2,"s":"2B4","k":"b","t":48,"v":-0.08},{"p":2,"s":"2B4","k":"b","t":60,"v":0},{"p":2,"s":"2B4","k":"b","t":76,"v":0.05},
{"p":2,"s":"2B5","k":"b","t":1,"v":-4.2},{"p":2,"s":"2B5","k":"b","t":4,"v":-2.8},{"p":2,"s":"2B5","k":"b","t":7,"v":-1.7},{"p":2,"s":"2B5","k":"b","t":10,"v":-0.9},{"p":2,"s":"2B5","k":"b","t":13,"v":-0.35},{"p":2,"s":"2B5","k":"b","t":16,"v":-0.05},{"p":2,"s":"2B5","k":"b","t":19,"v":0.1},{"p":2,"s":"2B5","k":"b","t":25,"v":0.15},{"p":2,"s":"2B5","k":"b","t":35,"v":0.1},{"p":2,"s":"2B5","k":"b","t":50,"v":0.05},{"p":2,"s":"2B5","k":"b","t":76,"v":0},
{"p":2,"s":"2R1","k":"r","t":1,"v":-3.5},{"p":2,"s":"2R1","k":"r","t":4,"v":-2.2},{"p":2,"s":"2R1","k":"r","t":7,"v":-0.9},{"p":2,"s":"2R1","k":"r","t":10,"v":0.05},{"p":2,"s":"2R1","k":"r","t":13,"v":0.6},{"p":2,"s":"2R1","k":"r","t":16,"v":1.0},{"p":2,"s":"2R1","k":"r","t":19,"v":1.28},{"p":2,"s":"2R1","k":"r","t":22,"v":1.38},{"p":2,"s":"2R1","k":"r","t":25,"v":1.33},{"p":2,"s":"2R1","k":"r","t":28,"v":1.15},{"p":2,"s":"2R1","k":"r","t":31,"v":0.9},{"p":2,"s":"2R1","k":"r","t":34,"v":0.65},{"p":2,"s":"2R1","k":"r","t":37,"v":0.45},{"p":2,"s":"2R1","k":"r","t":40,"v":0.3},{"p":2,"s":"2R1","k":"r","t":44,"v":0.22},{"p":2,"s":"2R1","k":"r","t":48,"v":0.28},{"p":2,"s":"2R1","k":"r","t":53,"v":0.45},{"p":2,"s":"2R1","k":"r","t":58,"v":0.62},{"p":2,"s":"2R1","k":"r","t":63,"v":0.75},{"p":2,"s":"2R1","k":"r","t":68,"v":0.8},{"p":2,"s":"2R1","k":"r","t":72,"v":0.77},{"p":2,"s":"2R1","k":"r","t":76,"v":0.69},
{"p":2,"s":"2R2","k":"r","t":1,"v":-3.85},{"p":2,"s":"2R2","k":"r","t":4,"v":-2.5},{"p":2,"s":"2R2","k":"r","t":7,"v":-1.3},{"p":2,"s":"2R2","k":"r","t":10,"v":-0.4},{"p":2,"s":"2R2","k":"r","t":13,"v":0.2},{"p":2,"s":"2R2","k":"r","t":16,"v":0.55},{"p":2,"s":"2R2","k":"r","t":19,"v":0.68},{"p":2,"s":"2R2","k":"r","t":22,"v":0.7},{"p":2,"s":"2R2","k":"r","t":26,"v":0.6},{"p":2,"s":"2R2","k":"r","t":30,"v":0.45},{"p":2,"s":"2R2","k":"r","t":35,"v":0.3},{"p":2,"s":"2R2","k":"r","t":40,"v":0.2},{"p":2,"s":"2R2","k":"r","t":50,"v":0.1},{"p":2,"s":"2R2","k":"r","t":60,"v":0.05},{"p":2,"s":"2R2","k":"r","t":76,"v":-0.05},
{"p":2,"s":"2R3","k":"r","t":1,"v":-3.2},{"p":2,"s":"2R3","k":"r","t":4,"v":-2.1},{"p":2,"s":"2R3","k":"r","t":7,"v":-1.2},{"p":2,"s":"2R3","k":"r","t":10,"v":-0.5},{"p":2,"s":"2R3","k":"r","t":13,"v":0.05},{"p":2,"s":"2R3","k":"r","t":16,"v":0.35},{"p":2,"s":"2R3","k":"r","t":19,"v":0.5},{"p":2,"s":"2R3","k":"r","t":22,"v":0.55},{"p":2,"s":"2R3","k":"r","t":26,"v":0.5},{"p":2,"s":"2R3","k":"r","t":30,"v":0.35},{"p":2,"s":"2R3","k":"r","t":35,"v":0.2},{"p":2,"s":"2R3","k":"r","t":45,"v":0.1},{"p":2,"s":"2R3","k":"r","t":60,"v":0},{"p":2,"s":"2R3","k":"r","t":76,"v":-0.2},
{"p":2,"s":"2R4","k":"r","t":1,"v":-3.4},{"p":2,"s":"2R4","k":"r","t":4,"v":-2.3},{"p":2,"s":"2R4","k":"r","t":7,"v":-1.35},{"p":2,"s":"2R4","k":"r","t":10,"v":-0.65},{"p":2,"s":"2R4","k":"r","t":13,"v":-0.2},{"p":2,"s":"2R4","k":"r","t":16,"v":0.1},{"p":2,"s":"2R4","k":"r","t":19,"v":0.3},{"p":2,"s":"2R4","k":"r","t":22,"v":0.4},{"p":2,"s":"2R4","k":"r","t":26,"v":0.4},{"p":2,"s":"2R4","k":"r","t":30,"v":0.3},{"p":2,"s":"2R4","k":"r","t":40,"v":0.15},{"p":2,"s":"2R4","k":"r","t":50,"v":0.05},{"p":2,"s":"2R4","k":"r","t":60,"v":0},{"p":2,"s":"2R4","k":"r","t":76,"v":-0.1},
{"p":2,"s":"2KA","k":"k","t":1,"v":-1.5},{"p":2,"s":"2KA","k":"k","t":3,"v":-2.0},{"p":2,"s":"2KA","k":"k","t":5,"v":-2.3},{"p":2,"s":"2KA","k":"k","t":7,"v":-2.42},{"p":2,"s":"2KA","k":"k","t":9,"v":-2.38},{"p":2,"s":"2KA","k":"k","t":11,"v":-2.2},{"p":2,"s":"2KA","k":"k","t":13,"v":-1.9},{"p":2,"s":"2KA","k":"k","t":15,"v":-1.55},{"p":2,"s":"2KA","k":"k","t":17,"v":-1.15},{"p":2,"s":"2KA","k":"k","t":19,"v":-0.75},{"p":2,"s":"2KA","k":"k","t":21,"v":-0.4},{"p":2,"s":"2KA","k":"k","t":23,"v":-0.15},{"p":2,"s":"2KA","k":"k","t":26,"v":0},{"p":2,"s":"2KA","k":"k","t":30,"v":0.02},{"p":2,"s":"2KA","k":"k","t":40,"v":0},{"p":2,"s":"2KA","k":"k","t":55,"v":0.02},{"p":2,"s":"2KA","k":"k","t":76,"v":0.05},
{"p":2,"s":"2KB","k":"k","t":1,"v":-3.65},{"p":2,"s":"2KB","k":"k","t":4,"v":-2.5},{"p":2,"s":"2KB","k":"k","t":7,"v":-1.55},{"p":2,"s":"2KB","k":"k","t":10,"v":-0.85},{"p":2,"s":"2KB","k":"k","t":13,"v":-0.3},{"p":2,"s":"2KB","k":"k","t":16,"v":0.1},{"p":2,"s":"2KB","k":"k","t":19,"v":0.4},{"p":2,"s":"2KB","k":"k","t":22,"v":0.6},{"p":2,"s":"2KB","k":"k","t":26,"v":0.75},{"p":2,"s":"2KB","k":"k","t":30,"v":0.82},{"p":2,"s":"2KB","k":"k","t":34,"v":0.8},{"p":2,"s":"2KB","k":"k","t":38,"v":0.65},{"p":2,"s":"2KB","k":"k","t":42,"v":0.4},{"p":2,"s":"2KB","k":"k","t":46,"v":0.15},{"p":2,"s":"2KB","k":"k","t":50,"v":-0.05},{"p":2,"s":"2KB","k":"k","t":55,"v":-0.12},{"p":2,"s":"2KB","k":"k","t":62,"v":-0.15},{"p":2,"s":"2KB","k":"k","t":68,"v":-0.12},{"p":2,"s":"2KB","k":"k","t":72,"v":-0.02},{"p":2,"s":"2KB","k":"k","t":76,"v":0.1},
{"p":2,"s":"2K3","k":"k","t":1,"v":-3.3},{"p":2,"s":"2K3","k":"k","t":4,"v":-2.3},{"p":2,"s":"2K3","k":"k","t":7,"v":-1.4},{"p":2,"s":"2K3","k":"k","t":10,"v":-0.65},{"p":2,"s":"2K3","k":"k","t":13,"v":-0.15},{"p":2,"s":"2K3","k":"k","t":16,"v":0.05},{"p":2,"s":"2K3","k":"k","t":19,"v":0.05},{"p":2,"s":"2K3","k":"k","t":25,"v":0},{"p":2,"s":"2K3","k":"k","t":35,"v":0},{"p":2,"s":"2K3","k":"k","t":50,"v":0},{"p":2,"s":"2K3","k":"k","t":76,"v":0},
{"p":2,"s":"2M1","k":"m","t":1,"v":-1.47},{"p":2,"s":"2M1","k":"m","t":4,"v":-1.6},{"p":2,"s":"2M1","k":"m","t":7,"v":-1.72},{"p":2,"s":"2M1","k":"m","t":10,"v":-1.78},{"p":2,"s":"2M1","k":"m","t":13,"v":-1.78},{"p":2,"s":"2M1","k":"m","t":16,"v":-1.72},{"p":2,"s":"2M1","k":"m","t":19,"v":-1.58},{"p":2,"s":"2M1","k":"m","t":22,"v":-1.38},{"p":2,"s":"2M1","k":"m","t":25,"v":-1.12},{"p":2,"s":"2M1","k":"m","t":28,"v":-0.88},{"p":2,"s":"2M1","k":"m","t":31,"v":-0.68},{"p":2,"s":"2M1","k":"m","t":35,"v":-0.48},{"p":2,"s":"2M1","k":"m","t":40,"v":-0.3},{"p":2,"s":"2M1","k":"m","t":46,"v":-0.17},{"p":2,"s":"2M1","k":"m","t":55,"v":-0.07},{"p":2,"s":"2M1","k":"m","t":65,"v":-0.02},{"p":2,"s":"2M1","k":"m","t":76,"v":0},
{"p":2,"s":"2M2","k":"m","t":1,"v":-3.6},{"p":2,"s":"2M2","k":"m","t":4,"v":-2.5},{"p":2,"s":"2M2","k":"m","t":7,"v":-1.6},{"p":2,"s":"2M2","k":"m","t":10,"v":-0.9},{"p":2,"s":"2M2","k":"m","t":13,"v":-0.4},{"p":2,"s":"2M2","k":"m","t":16,"v":-0.1},{"p":2,"s":"2M2","k":"m","t":19,"v":0},{"p":2,"s":"2M2","k":"m","t":25,"v":0},{"p":2,"s":"2M2","k":"m","t":40,"v":0},{"p":2,"s":"2M2","k":"m","t":60,"v":-0.05},{"p":2,"s":"2M2","k":"m","t":76,"v":-0.1},
{"p":2,"s":"2C1","k":"c","t":1,"v":-2.2},{"p":2,"s":"2C1","k":"c","t":4,"v":-1.95},{"p":2,"s":"2C1","k":"c","t":7,"v":-1.88},{"p":2,"s":"2C1","k":"c","t":10,"v":-1.86},{"p":2,"s":"2C1","k":"c","t":13,"v":-1.86},{"p":2,"s":"2C1","k":"c","t":16,"v":-1.8},{"p":2,"s":"2C1","k":"c","t":19,"v":-1.65},{"p":2,"s":"2C1","k":"c","t":22,"v":-1.45},{"p":2,"s":"2C1","k":"c","t":24,"v":-1.3},{"p":2,"s":"2C1","k":"c","t":27,"v":-0.85},{"p":2,"s":"2C1","k":"c","t":30,"v":-0.5},{"p":2,"s":"2C1","k":"c","t":33,"v":-0.28},{"p":2,"s":"2C1","k":"c","t":37,"v":-0.08},{"p":2,"s":"2C1","k":"c","t":41,"v":0.04},{"p":2,"s":"2C1","k":"c","t":50,"v":0.05},{"p":2,"s":"2C1","k":"c","t":60,"v":0},{"p":2,"s":"2C1","k":"c","t":76,"v":-0.05},
{"p":2,"s":"2C2","k":"c","t":1,"v":-2.7},{"p":2,"s":"2C2","k":"c","t":4,"v":-1.9},{"p":2,"s":"2C2","k":"c","t":7,"v":-1.1},{"p":2,"s":"2C2","k":"c","t":10,"v":-0.5},{"p":2,"s":"2C2","k":"c","t":13,"v":-0.05},{"p":2,"s":"2C2","k":"c","t":16,"v":0.22},{"p":2,"s":"2C2","k":"c","t":19,"v":0.32},{"p":2,"s":"2C2","k":"c","t":23,"v":0.3},{"p":2,"s":"2C2","k":"c","t":30,"v":0.25},{"p":2,"s":"2C2","k":"c","t":40,"v":0.2},{"p":2,"s":"2C2","k":"c","t":50,"v":0.18},{"p":2,"s":"2C2","k":"c","t":60,"v":0.1},{"p":2,"s":"2C2","k":"c","t":70,"v":0},{"p":2,"s":"2C2","k":"c","t":76,"v":-0.05},
{"p":2,"s":"2C3","k":"c","t":1,"v":-3.3},{"p":2,"s":"2C3","k":"c","t":4,"v":-2.2},{"p":2,"s":"2C3","k":"c","t":7,"v":-1.2},{"p":2,"s":"2C3","k":"c","t":10,"v":-0.5},{"p":2,"s":"2C3","k":"c","t":13,"v":0},{"p":2,"s":"2C3","k":"c","t":16,"v":0.2},{"p":2,"s":"2C3","k":"c","t":19,"v":0.2},{"p":2,"s":"2C3","k":"c","t":25,"v":0.15},{"p":2,"s":"2C3","k":"c","t":35,"v":0.1},{"p":2,"s":"2C3","k":"c","t":50,"v":0.05},{"p":2,"s":"2C3","k":"c","t":76,"v":-0.1},
{"p":2,"s":"2G1","k":"g","t":1,"v":-3.0},{"p":2,"s":"2G1","k":"g","t":4,"v":-2.4},{"p":2,"s":"2G1","k":"g","t":7,"v":-1.9},{"p":2,"s":"2G1","k":"g","t":10,"v":-1.6},{"p":2,"s":"2G1","k":"g","t":13,"v":-1.4},{"p":2,"s":"2G1","k":"g","t":16,"v":-1.2},{"p":2,"s":"2G1","k":"g","t":19,"v":-1.0},{"p":2,"s":"2G1","k":"g","t":23,"v":-0.75},{"p":2,"s":"2G1","k":"g","t":27,"v":-0.5},{"p":2,"s":"2G1","k":"g","t":31,"v":-0.3},{"p":2,"s":"2G1","k":"g","t":35,"v":-0.15},{"p":2,"s":"2G1","k":"g","t":40,"v":-0.05},{"p":2,"s":"2G1","k":"g","t":50,"v":0},{"p":2,"s":"2G1","k":"g","t":60,"v":0.05},{"p":2,"s":"2G1","k":"g","t":76,"v":0.1},
{"p":2,"s":"2G2","k":"g","t":1,"v":-4.13},{"p":2,"s":"2G2","k":"g","t":4,"v":-2.7},{"p":2,"s":"2G2","k":"g","t":7,"v":-1.6},{"p":2,"s":"2G2","k":"g","t":10,"v":-0.8},{"p":2,"s":"2G2","k":"g","t":13,"v":-0.25},{"p":2,"s":"2G2","k":"g","t":16,"v":0.05},{"p":2,"s":"2G2","k":"g","t":19,"v":0.15},{"p":2,"s":"2G2","k":"g","t":23,"v":0.15},{"p":2,"s":"2G2","k":"g","t":30,"v":0.1},{"p":2,"s":"2G2","k":"g","t":40,"v":0.05},{"p":2,"s":"2G2","k":"g","t":60,"v":0},{"p":2,"s":"2G2","k":"g","t":76,"v":0.15},
{"p":2,"s":"2G3","k":"g","t":1,"v":-3.9},{"p":2,"s":"2G3","k":"g","t":4,"v":-2.8},{"p":2,"s":"2G3","k":"g","t":7,"v":-1.9},{"p":2,"s":"2G3","k":"g","t":10,"v":-1.2},{"p":2,"s":"2G3","k":"g","t":13,"v":-0.65},{"p":2,"s":"2G3","k":"g","t":16,"v":-0.3},{"p":2,"s":"2G3","k":"g","t":19,"v":-0.1},{"p":2,"s":"2G3","k":"g","t":23,"v":0},{"p":2,"s":"2G3","k":"g","t":30,"v":0},{"p":2,"s":"2G3","k":"g","t":40,"v":0},{"p":2,"s":"2G3","k":"g","t":60,"v":0.05},{"p":2,"s":"2G3","k":"g","t":76,"v":0.15},
{"p":2,"s":"2G4","k":"g","t":1,"v":-2.9},{"p":2,"s":"2G4","k":"g","t":4,"v":-2.1},{"p":2,"s":"2G4","k":"g","t":7,"v":-1.45},{"p":2,"s":"2G4","k":"g","t":10,"v":-0.95},{"p":2,"s":"2G4","k":"g","t":13,"v":-0.6},{"p":2,"s":"2G4","k":"g","t":16,"v":-0.4},{"p":2,"s":"2G4","k":"g","t":19,"v":-0.3},{"p":2,"s":"2G4","k":"g","t":23,"v":-0.25},{"p":2,"s":"2G4","k":"g","t":30,"v":-0.15},{"p":2,"s":"2G4","k":"g","t":40,"v":-0.1},{"p":2,"s":"2G4","k":"g","t":55,"v":-0.05},{"p":2,"s":"2G4","k":"g","t":76,"v":0.05},
{"p":3,"s":"3R2","k":"r","t":1,"v":-0.06},{"p":3,"s":"3R2","k":"r","t":3,"v":-0.12},{"p":3,"s":"3R2","k":"r","t":5,"v":-0.15},{"p":3,"s":"3R2","k":"r","t":7,"v":-0.14},{"p":3,"s":"3R2","k":"r","t":9,"v":-0.05},{"p":3,"s":"3R2","k":"r","t":11,"v":0.1},{"p":3,"s":"3R2","k":"r","t":13,"v":0.33},{"p":3,"s":"3R2","k":"r","t":15,"v":0.6},{"p":3,"s":"3R2","k":"r","t":17,"v":0.92},{"p":3,"s":"3R2","k":"r","t":19,"v":1.25},{"p":3,"s":"3R2","k":"r","t":21,"v":1.58},{"p":3,"s":"3R2","k":"r","t":23,"v":1.88},{"p":3,"s":"3R2","k":"r","t":25,"v":2.1},{"p":3,"s":"3R2","k":"r","t":27,"v":2.25},{"p":3,"s":"3R2","k":"r","t":29,"v":2.32},{"p":3,"s":"3R2","k":"r","t":31,"v":2.33},{"p":3,"s":"3R2","k":"r","t":33,"v":2.25},{"p":3,"s":"3R2","k":"r","t":35,"v":2.05},{"p":3,"s":"3R2","k":"r","t":37,"v":1.72},{"p":3,"s":"3R2","k":"r","t":39,"v":1.3},{"p":3,"s":"3R2","k":"r","t":41,"v":0.88},{"p":3,"s":"3R2","k":"r","t":43,"v":0.52},{"p":3,"s":"3R2","k":"r","t":45,"v":0.27},{"p":3,"s":"3R2","k":"r","t":47,"v":0.12},{"p":3,"s":"3R2","k":"r","t":50,"v":0.03},{"p":3,"s":"3R2","k":"r","t":55,"v":0},{"p":3,"s":"3R2","k":"r","t":65,"v":0},{"p":3,"s":"3R2","k":"r","t":76,"v":0},
{"p":3,"s":"3R1","k":"r","t":1,"v":-3.18},{"p":3,"s":"3R1","k":"r","t":3,"v":-2.4},{"p":3,"s":"3R1","k":"r","t":5,"v":-1.7},{"p":3,"s":"3R1","k":"r","t":7,"v":-1.05},{"p":3,"s":"3R1","k":"r","t":9,"v":-0.45},{"p":3,"s":"3R1","k":"r","t":11,"v":0.1},{"p":3,"s":"3R1","k":"r","t":13,"v":0.55},{"p":3,"s":"3R1","k":"r","t":15,"v":0.95},{"p":3,"s":"3R1","k":"r","t":17,"v":1.3},{"p":3,"s":"3R1","k":"r","t":19,"v":1.55},{"p":3,"s":"3R1","k":"r","t":21,"v":1.7},{"p":3,"s":"3R1","k":"r","t":23,"v":1.75},{"p":3,"s":"3R1","k":"r","t":25,"v":1.68},{"p":3,"s":"3R1","k":"r","t":28,"v":1.45},{"p":3,"s":"3R1","k":"r","t":32,"v":1.1},{"p":3,"s":"3R1","k":"r","t":36,"v":0.75},{"p":3,"s":"3R1","k":"r","t":40,"v":0.45},{"p":3,"s":"3R1","k":"r","t":45,"v":0.2},{"p":3,"s":"3R1","k":"r","t":50,"v":0.08},{"p":3,"s":"3R1","k":"r","t":60,"v":0.02},{"p":3,"s":"3R1","k":"r","t":76,"v":0},
{"p":3,"s":"3K1","k":"k","t":1,"v":-2.19},{"p":3,"s":"3K1","k":"k","t":3,"v":-1.3},{"p":3,"s":"3K1","k":"k","t":5,"v":-0.5},{"p":3,"s":"3K1","k":"k","t":7,"v":0.2},{"p":3,"s":"3K1","k":"k","t":9,"v":0.8},{"p":3,"s":"3K1","k":"k","t":11,"v":1.25},{"p":3,"s":"3K1","k":"k","t":13,"v":1.6},{"p":3,"s":"3K1","k":"k","t":15,"v":1.82},{"p":3,"s":"3K1","k":"k","t":17,"v":1.95},{"p":3,"s":"3K1","k":"k","t":19,"v":2.0},{"p":3,"s":"3K1","k":"k","t":21,"v":1.97},{"p":3,"s":"3K1","k":"k","t":23,"v":1.85},{"p":3,"s":"3K1","k":"k","t":26,"v":1.55},{"p":3,"s":"3K1","k":"k","t":30,"v":1.05},{"p":3,"s":"3K1","k":"k","t":34,"v":0.6},{"p":3,"s":"3K1","k":"k","t":38,"v":0.22},{"p":3,"s":"3K1","k":"k","t":42,"v":-0.08},{"p":3,"s":"3K1","k":"k","t":46,"v":-0.3},{"p":3,"s":"3K1","k":"k","t":50,"v":-0.45},{"p":3,"s":"3K1","k":"k","t":54,"v":-0.54},{"p":3,"s":"3K1","k":"k","t":57,"v":-0.55},{"p":3,"s":"3K1","k":"k","t":61,"v":-0.5},{"p":3,"s":"3K1","k":"k","t":65,"v":-0.38},{"p":3,"s":"3K1","k":"k","t":69,"v":-0.18},{"p":3,"s":"3K1","k":"k","t":72,"v":0.05},{"p":3,"s":"3K1","k":"k","t":76,"v":0.45},
{"p":3,"s":"3K2","k":"k","t":1,"v":0.65},{"p":3,"s":"3K2","k":"k","t":4,"v":0.95},{"p":3,"s":"3K2","k":"k","t":7,"v":1.25},{"p":3,"s":"3K2","k":"k","t":10,"v":1.45},{"p":3,"s":"3K2","k":"k","t":13,"v":1.58},{"p":3,"s":"3K2","k":"k","t":16,"v":1.64},{"p":3,"s":"3K2","k":"k","t":19,"v":1.65},{"p":3,"s":"3K2","k":"k","t":22,"v":1.6},{"p":3,"s":"3K2","k":"k","t":25,"v":1.5},{"p":3,"s":"3K2","k":"k","t":28,"v":1.38},{"p":3,"s":"3K2","k":"k","t":32,"v":1.2},{"p":3,"s":"3K2","k":"k","t":36,"v":1.02},{"p":3,"s":"3K2","k":"k","t":40,"v":0.85},{"p":3,"s":"3K2","k":"k","t":44,"v":0.7},{"p":3,"s":"3K2","k":"k","t":48,"v":0.55},{"p":3,"s":"3K2","k":"k","t":52,"v":0.42},{"p":3,"s":"3K2","k":"k","t":56,"v":0.3},{"p":3,"s":"3K2","k":"k","t":60,"v":0.2},{"p":3,"s":"3K2","k":"k","t":65,"v":0.12},{"p":3,"s":"3K2","k":"k","t":70,"v":0.06},{"p":3,"s":"3K2","k":"k","t":76,"v":0.02},
{"p":3,"s":"3G1","k":"g","t":1,"v":-1.67},{"p":3,"s":"3G1","k":"g","t":3,"v":-0.95},{"p":3,"s":"3G1","k":"g","t":5,"v":-0.3},{"p":3,"s":"3G1","k":"g","t":7,"v":0.25},{"p":3,"s":"3G1","k":"g","t":9,"v":0.7},{"p":3,"s":"3G1","k":"g","t":11,"v":1.05},{"p":3,"s":"3G1","k":"g","t":13,"v":1.35},{"p":3,"s":"3G1","k":"g","t":15,"v":1.55},{"p":3,"s":"3G1","k":"g","t":17,"v":1.68},{"p":3,"s":"3G1","k":"g","t":19,"v":1.75},{"p":3,"s":"3G1","k":"g","t":22,"v":1.78},{"p":3,"s":"3G1","k":"g","t":25,"v":1.65},{"p":3,"s":"3G1","k":"g","t":28,"v":1.5},{"p":3,"s":"3G1","k":"g","t":32,"v":1.3},{"p":3,"s":"3G1","k":"g","t":36,"v":1.08},{"p":3,"s":"3G1","k":"g","t":40,"v":0.85},{"p":3,"s":"3G1","k":"g","t":45,"v":0.6},{"p":3,"s":"3G1","k":"g","t":50,"v":0.38},{"p":3,"s":"3G1","k":"g","t":55,"v":0.2},{"p":3,"s":"3G1","k":"g","t":60,"v":0.1},{"p":3,"s":"3G1","k":"g","t":65,"v":0.03},{"p":3,"s":"3G1","k":"g","t":70,"v":0},{"p":3,"s":"3G1","k":"g","t":76,"v":-0.06},
{"p":3,"s":"3M1","k":"m","t":1,"v":0.38},{"p":3,"s":"3M1","k":"m","t":3,"v":0.72},{"p":3,"s":"3M1","k":"m","t":5,"v":1.03},{"p":3,"s":"3M1","k":"m","t":7,"v":1.32},{"p":3,"s":"3M1","k":"m","t":9,"v":1.57},{"p":3,"s":"3M1","k":"m","t":11,"v":1.76},{"p":3,"s":"3M1","k":"m","t":13,"v":1.89},{"p":3,"s":"3M1","k":"m","t":15,"v":1.96},{"p":3,"s":"3M1","k":"m","t":17,"v":1.98},{"p":3,"s":"3M1","k":"m","t":19,"v":1.93},{"p":3,"s":"3M1","k":"m","t":21,"v":1.8},{"p":3,"s":"3M1","k":"m","t":24,"v":1.5},{"p":3,"s":"3M1","k":"m","t":27,"v":1.15},{"p":3,"s":"3M1","k":"m","t":30,"v":0.82},{"p":3,"s":"3M1","k":"m","t":33,"v":0.55},{"p":3,"s":"3M1","k":"m","t":36,"v":0.35},{"p":3,"s":"3M1","k":"m","t":40,"v":0.17},{"p":3,"s":"3M1","k":"m","t":45,"v":0.04},{"p":3,"s":"3M1","k":"m","t":50,"v":-0.03},{"p":3,"s":"3M1","k":"m","t":55,"v":-0.05},{"p":3,"s":"3M1","k":"m","t":65,"v":-0.05},{"p":3,"s":"3M1","k":"m","t":76,"v":-0.03},
{"p":3,"s":"3B1","k":"b","t":1,"v":0.25},{"p":3,"s":"3B1","k":"b","t":3,"v":0.62},{"p":3,"s":"3B1","k":"b","t":5,"v":0.96},{"p":3,"s":"3B1","k":"b","t":7,"v":1.27},{"p":3,"s":"3B1","k":"b","t":9,"v":1.53},{"p":3,"s":"3B1","k":"b","t":11,"v":1.73},{"p":3,"s":"3B1","k":"b","t":13,"v":1.87},{"p":3,"s":"3B1","k":"b","t":15,"v":1.95},{"p":3,"s":"3B1","k":"b","t":17,"v":1.97},{"p":3,"s":"3B1","k":"b","t":19,"v":1.92},{"p":3,"s":"3B1","k":"b","t":21,"v":1.8},{"p":3,"s":"3B1","k":"b","t":24,"v":1.52},{"p":3,"s":"3B1","k":"b","t":27,"v":1.18},{"p":3,"s":"3B1","k":"b","t":30,"v":0.86},{"p":3,"s":"3B1","k":"b","t":33,"v":0.6},{"p":3,"s":"3B1","k":"b","t":36,"v":0.4},{"p":3,"s":"3B1","k":"b","t":40,"v":0.22},{"p":3,"s":"3B1","k":"b","t":45,"v":0.1},{"p":3,"s":"3B1","k":"b","t":50,"v":0.03},{"p":3,"s":"3B1","k":"b","t":60,"v":0},{"p":3,"s":"3B1","k":"b","t":76,"v":0},
{"p":3,"s":"3C1","k":"c","t":1,"v":0.12},{"p":3,"s":"3C1","k":"c","t":3,"v":0.5},{"p":3,"s":"3C1","k":"c","t":5,"v":0.86},{"p":3,"s":"3C1","k":"c","t":7,"v":1.18},{"p":3,"s":"3C1","k":"c","t":9,"v":1.45},{"p":3,"s":"3C1","k":"c","t":11,"v":1.65},{"p":3,"s":"3C1","k":"c","t":13,"v":1.79},{"p":3,"s":"3C1","k":"c","t":15,"v":1.87},{"p":3,"s":"3C1","k":"c","t":17,"v":1.9},{"p":3,"s":"3C1","k":"c","t":19,"v":1.87},{"p":3,"s":"3C1","k":"c","t":22,"v":1.7},{"p":3,"s":"3C1","k":"c","t":25,"v":1.45},{"p":3,"s":"3C1","k":"c","t":28,"v":1.18},{"p":3,"s":"3C1","k":"c","t":32,"v":0.9},{"p":3,"s":"3C1","k":"c","t":36,"v":0.68},{"p":3,"s":"3C1","k":"c","t":40,"v":0.51},{"p":3,"s":"3C1","k":"c","t":45,"v":0.35},{"p":3,"s":"3C1","k":"c","t":50,"v":0.25},{"p":3,"s":"3C1","k":"c","t":55,"v":0.15},{"p":3,"s":"3C1","k":"c","t":60,"v":0.08},{"p":3,"s":"3C1","k":"c","t":65,"v":0.05},{"p":3,"s":"3C1","k":"c","t":70,"v":0.08},{"p":3,"s":"3C1","k":"c","t":76,"v":0.15},
{"p":4,"s":"4B1","k":"b","t":1,"v":4.95},{"p":4,"s":"4B1","k":"b","t":3,"v":2.8},{"p":4,"s":"4B1","k":"b","t":5,"v":1.2},{"p":4,"s":"4B1","k":"b","t":7,"v":0.1},{"p":4,"s":"4B1","k":"b","t":9,"v":-0.7},{"p":4,"s":"4B1","k":"b","t":11,"v":-1.25},{"p":4,"s":"4B1","k":"b","t":13,"v":-1.52},{"p":4,"s":"4B1","k":"b","t":14.5,"v":-1.55},{"p":4,"s":"4B1","k":"b","t":16,"v":-1.35},{"p":4,"s":"4B1","k":"b","t":18,"v":-0.8},{"p":4,"s":"4B1","k":"b","t":20,"v":-0.3},{"p":4,"s":"4B1","k":"b","t":23,"v":0.05},{"p":4,"s":"4B1","k":"b","t":27,"v":0.18},{"p":4,"s":"4B1","k":"b","t":32,"v":0.24},{"p":4,"s":"4B1","k":"b","t":40,"v":0.25},{"p":4,"s":"4B1","k":"b","t":50,"v":0.2},{"p":4,"s":"4B1","k":"b","t":60,"v":0.1},{"p":4,"s":"4B1","k":"b","t":70,"v":0.05},{"p":4,"s":"4B1","k":"b","t":76,"v":0.05},
{"p":4,"s":"4B2","k":"b","t":1,"v":2.65},{"p":4,"s":"4B2","k":"b","t":4,"v":1.9},{"p":4,"s":"4B2","k":"b","t":7,"v":1.2},{"p":4,"s":"4B2","k":"b","t":10,"v":0.6},{"p":4,"s":"4B2","k":"b","t":13,"v":0.15},{"p":4,"s":"4B2","k":"b","t":16,"v":-0.35},{"p":4,"s":"4B2","k":"b","t":19,"v":-0.8},{"p":4,"s":"4B2","k":"b","t":22,"v":-1.15},{"p":4,"s":"4B2","k":"b","t":25,"v":-1.33},{"p":4,"s":"4B2","k":"b","t":28,"v":-1.35},{"p":4,"s":"4B2","k":"b","t":32,"v":-1.3},{"p":4,"s":"4B2","k":"b","t":36,"v":-1.2},{"p":4,"s":"4B2","k":"b","t":40,"v":-1.08},{"p":4,"s":"4B2","k":"b","t":45,"v":-0.88},{"p":4,"s":"4B2","k":"b","t":50,"v":-0.62},{"p":4,"s":"4B2","k":"b","t":55,"v":-0.38},{"p":4,"s":"4B2","k":"b","t":60,"v":-0.2},{"p":4,"s":"4B2","k":"b","t":65,"v":-0.07},{"p":4,"s":"4B2","k":"b","t":70,"v":0},{"p":4,"s":"4B2","k":"b","t":76,"v":0.02},
{"p":4,"s":"4K1","k":"k","t":1,"v":3.76},{"p":4,"s":"4K1","k":"k","t":3,"v":1.6},{"p":4,"s":"4K1","k":"k","t":5,"v":-0.3},{"p":4,"s":"4K1","k":"k","t":7,"v":-1.7},{"p":4,"s":"4K1","k":"k","t":9,"v":-2.55},{"p":4,"s":"4K1","k":"k","t":10.5,"v":-2.8},{"p":4,"s":"4K1","k":"k","t":12,"v":-2.65},{"p":4,"s":"4K1","k":"k","t":14,"v":-2.1},{"p":4,"s":"4K1","k":"k","t":16,"v":-1.4},{"p":4,"s":"4K1","k":"k","t":18,"v":-0.75},{"p":4,"s":"4K1","k":"k","t":20,"v":-0.25},{"p":4,"s":"4K1","k":"k","t":22,"v":0.1},{"p":4,"s":"4K1","k":"k","t":25,"v":0.45},{"p":4,"s":"4K1","k":"k","t":28,"v":0.7},{"p":4,"s":"4K1","k":"k","t":31,"v":0.83},{"p":4,"s":"4K1","k":"k","t":34,"v":0.87},{"p":4,"s":"4K1","k":"k","t":37,"v":0.75},{"p":4,"s":"4K1","k":"k","t":40,"v":0.5},{"p":4,"s":"4K1","k":"k","t":43,"v":0.25},{"p":4,"s":"4K1","k":"k","t":46,"v":0.08},{"p":4,"s":"4K1","k":"k","t":50,"v":0.02},{"p":4,"s":"4K1","k":"k","t":60,"v":0},{"p":4,"s":"4K1","k":"k","t":76,"v":0},
{"p":4,"s":"4K2","k":"k","t":1,"v":2.9},{"p":4,"s":"4K2","k":"k","t":3,"v":1.0},{"p":4,"s":"4K2","k":"k","t":5,"v":-0.5},{"p":4,"s":"4K2","k":"k","t":7,"v":-1.5},{"p":4,"s":"4K2","k":"k","t":9,"v":-2.1},{"p":4,"s":"4K2","k":"k","t":11,"v":-2.32},{"p":4,"s":"4K2","k":"k","t":13,"v":-2.1},{"p":4,"s":"4K2","k":"k","t":15,"v":-1.6},{"p":4,"s":"4K2","k":"k","t":17,"v":-1.0},{"p":4,"s":"4K2","k":"k","t":19,"v":-0.5},{"p":4,"s":"4K2","k":"k","t":21,"v":-0.2},{"p":4,"s":"4K2","k":"k","t":23,"v":-0.1},{"p":4,"s":"4K2","k":"k","t":26,"v":-0.2},{"p":4,"s":"4K2","k":"k","t":30,"v":-0.38},{"p":4,"s":"4K2","k":"k","t":34,"v":-0.43},{"p":4,"s":"4K2","k":"k","t":38,"v":-0.4},{"p":4,"s":"4K2","k":"k","t":42,"v":-0.3},{"p":4,"s":"4K2","k":"k","t":46,"v":-0.15},{"p":4,"s":"4K2","k":"k","t":50,"v":-0.05},{"p":4,"s":"4K2","k":"k","t":60,"v":0},{"p":4,"s":"4K2","k":"k","t":76,"v":0},
{"p":4,"s":"4G1","k":"g","t":1,"v":3.0},{"p":4,"s":"4G1","k":"g","t":3,"v":2.1},{"p":4,"s":"4G1","k":"g","t":5,"v":1.3},{"p":4,"s":"4G1","k":"g","t":7,"v":0.55},{"p":4,"s":"4G1","k":"g","t":9,"v":-0.1},{"p":4,"s":"4G1","k":"g","t":11,"v":-0.65},{"p":4,"s":"4G1","k":"g","t":13,"v":-1.1},{"p":4,"s":"4G1","k":"g","t":15,"v":-1.45},{"p":4,"s":"4G1","k":"g","t":17,"v":-1.7},{"p":4,"s":"4G1","k":"g","t":19,"v":-1.85},{"p":4,"s":"4G1","k":"g","t":21,"v":-1.88},{"p":4,"s":"4G1","k":"g","t":23,"v":-1.75},{"p":4,"s":"4G1","k":"g","t":26,"v":-1.4},{"p":4,"s":"4G1","k":"g","t":29,"v":-1.0},{"p":4,"s":"4G1","k":"g","t":32,"v":-0.65},{"p":4,"s":"4G1","k":"g","t":36,"v":-0.35},{"p":4,"s":"4G1","k":"g","t":40,"v":-0.12},{"p":4,"s":"4G1","k":"g","t":45,"v":0},{"p":4,"s":"4G1","k":"g","t":50,"v":0.05},{"p":4,"s":"4G1","k":"g","t":60,"v":0.05},{"p":4,"s":"4G1","k":"g","t":70,"v":0},{"p":4,"s":"4G1","k":"g","t":76,"v":-0.1},
{"p":4,"s":"4G2","k":"g","t":1,"v":0.2},{"p":4,"s":"4G2","k":"g","t":3,"v":-0.25},{"p":4,"s":"4G2","k":"g","t":5,"v":-0.65},{"p":4,"s":"4G2","k":"g","t":7,"v":-1.0},{"p":4,"s":"4G2","k":"g","t":9,"v":-1.3},{"p":4,"s":"4G2","k":"g","t":11,"v":-1.55},{"p":4,"s":"4G2","k":"g","t":13,"v":-1.75},{"p":4,"s":"4G2","k":"g","t":15,"v":-1.9},{"p":4,"s":"4G2","k":"g","t":17,"v":-1.97},{"p":4,"s":"4G2","k":"g","t":19,"v":-1.98},{"p":4,"s":"4G2","k":"g","t":21,"v":-1.93},{"p":4,"s":"4G2","k":"g","t":24,"v":-1.7},{"p":4,"s":"4G2","k":"g","t":28,"v":-1.3},{"p":4,"s":"4G2","k":"g","t":32,"v":-0.9},{"p":4,"s":"4G2","k":"g","t":36,"v":-0.6},{"p":4,"s":"4G2","k":"g","t":40,"v":-0.35},{"p":4,"s":"4G2","k":"g","t":45,"v":-0.15},{"p":4,"s":"4G2","k":"g","t":50,"v":-0.05},{"p":4,"s":"4G2","k":"g","t":60,"v":0},{"p":4,"s":"4G2","k":"g","t":76,"v":-0.08},
{"p":4,"s":"4C1","k":"c","t":1,"v":3.37},{"p":4,"s":"4C1","k":"c","t":3,"v":2.5},{"p":4,"s":"4C1","k":"c","t":5,"v":1.6},{"p":4,"s":"4C1","k":"c","t":7,"v":0.8},{"p":4,"s":"4C1","k":"c","t":9,"v":0.1},{"p":4,"s":"4C1","k":"c","t":11,"v":-0.5},{"p":4,"s":"4C1","k":"c","t":13,"v":-1.0},{"p":4,"s":"4C1","k":"c","t":15,"v":-1.4},{"p":4,"s":"4C1","k":"c","t":17,"v":-1.68},{"p":4,"s":"4C1","k":"c","t":19,"v":-1.82},{"p":4,"s":"4C1","k":"c","t":21,"v":-1.82},{"p":4,"s":"4C1","k":"c","t":23,"v":-1.6},{"p":4,"s":"4C1","k":"c","t":26,"v":-1.1},{"p":4,"s":"4C1","k":"c","t":29,"v":-0.6},{"p":4,"s":"4C1","k":"c","t":32,"v":-0.2},{"p":4,"s":"4C1","k":"c","t":35,"v":0.1},{"p":4,"s":"4C1","k":"c","t":39,"v":0.32},{"p":4,"s":"4C1","k":"c","t":43,"v":0.43},{"p":4,"s":"4C1","k":"c","t":47,"v":0.45},{"p":4,"s":"4C1","k":"c","t":52,"v":0.38},{"p":4,"s":"4C1","k":"c","t":57,"v":0.22},{"p":4,"s":"4C1","k":"c","t":62,"v":0.1},{"p":4,"s":"4C1","k":"c","t":68,"v":0},{"p":4,"s":"4C1","k":"c","t":76,"v":-0.05},
{"p":4,"s":"4C2","k":"c","t":1,"v":0},{"p":4,"s":"4C2","k":"c","t":3,"v":-0.4},{"p":4,"s":"4C2","k":"c","t":5,"v":-0.75},{"p":4,"s":"4C2","k":"c","t":7,"v":-1.05},{"p":4,"s":"4C2","k":"c","t":9,"v":-1.3},{"p":4,"s":"4C2","k":"c","t":11,"v":-1.5},{"p":4,"s":"4C2","k":"c","t":13,"v":-1.65},{"p":4,"s":"4C2","k":"c","t":15,"v":-1.75},{"p":4,"s":"4C2","k":"c","t":17,"v":-1.82},{"p":4,"s":"4C2","k":"c","t":19,"v":-1.85},{"p":4,"s":"4C2","k":"c","t":21,"v":-1.8},{"p":4,"s":"4C2","k":"c","t":24,"v":-1.55},{"p":4,"s":"4C2","k":"c","t":28,"v":-1.15},{"p":4,"s":"4C2","k":"c","t":32,"v":-0.8},{"p":4,"s":"4C2","k":"c","t":36,"v":-0.5},{"p":4,"s":"4C2","k":"c","t":40,"v":-0.3},{"p":4,"s":"4C2","k":"c","t":45,"v":-0.15},{"p":4,"s":"4C2","k":"c","t":50,"v":-0.08},{"p":4,"s":"4C2","k":"c","t":60,"v":0},{"p":4,"s":"4C2","k":"c","t":76,"v":-0.05},
{"p":4,"s":"4R1","k":"r","t":1,"v":1.08},{"p":4,"s":"4R1","k":"r","t":3,"v":0.4},{"p":4,"s":"4R1","k":"r","t":5,"v":-0.2},{"p":4,"s":"4R1","k":"r","t":7,"v":-0.7},{"p":4,"s":"4R1","k":"r","t":9,"v":-1.1},{"p":4,"s":"4R1","k":"r","t":11,"v":-1.45},{"p":4,"s":"4R1","k":"r","t":13,"v":-1.72},{"p":4,"s":"4R1","k":"r","t":15,"v":-1.9},{"p":4,"s":"4R1","k":"r","t":17,"v":-2.02},{"p":4,"s":"4R1","k":"r","t":19,"v":-2.05},{"p":4,"s":"4R1","k":"r","t":21,"v":-2.0},{"p":4,"s":"4R1","k":"r","t":24,"v":-1.8},{"p":4,"s":"4R1","k":"r","t":28,"v":-1.4},{"p":4,"s":"4R1","k":"r","t":32,"v":-1.0},{"p":4,"s":"4R1","k":"r","t":36,"v":-0.65},{"p":4,"s":"4R1","k":"r","t":40,"v":-0.4},{"p":4,"s":"4R1","k":"r","t":45,"v":-0.2},{"p":4,"s":"4R1","k":"r","t":50,"v":-0.1},{"p":4,"s":"4R1","k":"r","t":60,"v":0},{"p":4,"s":"4R1","k":"r","t":76,"v":0},
{"p":4,"s":"4R2","k":"r","t":1,"v":0.39},{"p":4,"s":"4R2","k":"r","t":3,"v":-0.1},{"p":4,"s":"4R2","k":"r","t":5,"v":-0.55},{"p":4,"s":"4R2","k":"r","t":7,"v":-0.95},{"p":4,"s":"4R2","k":"r","t":9,"v":-1.3},{"p":4,"s":"4R2","k":"r","t":11,"v":-1.6},{"p":4,"s":"4R2","k":"r","t":13,"v":-1.82},{"p":4,"s":"4R2","k":"r","t":15,"v":-1.97},{"p":4,"s":"4R2","k":"r","t":17,"v":-2.05},{"p":4,"s":"4R2","k":"r","t":19,"v":-2.08},{"p":4,"s":"4R2","k":"r","t":21,"v":-2.02},{"p":4,"s":"4R2","k":"r","t":24,"v":-1.82},{"p":4,"s":"4R2","k":"r","t":28,"v":-1.45},{"p":4,"s":"4R2","k":"r","t":32,"v":-1.05},{"p":4,"s":"4R2","k":"r","t":36,"v":-0.7},{"p":4,"s":"4R2","k":"r","t":40,"v":-0.45},{"p":4,"s":"4R2","k":"r","t":45,"v":-0.25},{"p":4,"s":"4R2","k":"r","t":50,"v":-0.12},{"p":4,"s":"4R2","k":"r","t":60,"v":-0.02},{"p":4,"s":"4R2","k":"r","t":76,"v":0},
{"p":4,"s":"4R3","k":"r","t":1,"v":0.25},{"p":4,"s":"4R3","k":"r","t":3,"v":-0.2},{"p":4,"s":"4R3","k":"r","t":5,"v":-0.6},{"p":4,"s":"4R3","k":"r","t":7,"v":-0.98},{"p":4,"s":"4R3","k":"r","t":9,"v":-1.3},{"p":4,"s":"4R3","k":"r","t":11,"v":-1.58},{"p":4,"s":"4R3","k":"r","t":13,"v":-1.8},{"p":4,"s":"4R3","k":"r","t":15,"v":-1.95},{"p":4,"s":"4R3","k":"r","t":17,"v":-2.03},{"p":4,"s":"4R3","k":"r","t":19,"v":-2.05},{"p":4,"s":"4R3","k":"r","t":21,"v":-1.98},{"p":4,"s":"4R3","k":"r","t":24,"v":-1.75},{"p":4,"s":"4R3","k":"r","t":28,"v":-1.35},{"p":4,"s":"4R3","k":"r","t":32,"v":-0.95},{"p":4,"s":"4R3","k":"r","t":36,"v":-0.6},{"p":4,"s":"4R3","k":"r","t":40,"v":-0.38},{"p":4,"s":"4R3","k":"r","t":45,"v":-0.2},{"p":4,"s":"4R3","k":"r","t":50,"v":-0.1},{"p":4,"s":"4R3","k":"r","t":60,"v":-0.02},{"p":4,"s":"4R3","k":"r","t":76,"v":-0.02},
{"p":4,"s":"4M1","k":"m","t":1,"v":0.1},{"p":4,"s":"4M1","k":"m","t":3,"v":-0.3},{"p":4,"s":"4M1","k":"m","t":5,"v":-0.65},{"p":4,"s":"4M1","k":"m","t":7,"v":-0.95},{"p":4,"s":"4M1","k":"m","t":9,"v":-1.18},{"p":4,"s":"4M1","k":"m","t":11,"v":-1.35},{"p":4,"s":"4M1","k":"m","t":13,"v":-1.45},{"p":4,"s":"4M1","k":"m","t":15,"v":-1.52},{"p":4,"s":"4M1","k":"m","t":18,"v":-1.55},{"p":4,"s":"4M1","k":"m","t":21,"v":-1.52},{"p":4,"s":"4M1","k":"m","t":25,"v":-1.4},{"p":4,"s":"4M1","k":"m","t":30,"v":-1.22},{"p":4,"s":"4M1","k":"m","t":35,"v":-1.08},{"p":4,"s":"4M1","k":"m","t":40,"v":-0.97},{"p":4,"s":"4M1","k":"m","t":45,"v":-0.86},{"p":4,"s":"4M1","k":"m","t":50,"v":-0.72},{"p":4,"s":"4M1","k":"m","t":55,"v":-0.58},{"p":4,"s":"4M1","k":"m","t":60,"v":-0.38},{"p":4,"s":"4M1","k":"m","t":65,"v":-0.15},{"p":4,"s":"4M1","k":"m","t":70,"v":0.15},{"p":4,"s":"4M1","k":"m","t":76,"v":0.55},
{"p":5,"s":"5K","k":"k","t":1,"v":2.09},{"p":5,"s":"5K","k":"k","t":2,"v":1.6},{"p":5,"s":"5K","k":"k","t":3,"v":1.15},{"p":5,"s":"5K","k":"k","t":4,"v":0.68},{"p":5,"s":"5K","k":"k","t":5,"v":0.24},{"p":5,"s":"5K","k":"k","t":6,"v":-0.16},{"p":5,"s":"5K","k":"k","t":7,"v":-0.52},{"p":5,"s":"5K","k":"k","t":8,"v":-0.83},{"p":5,"s":"5K","k":"k","t":9,"v":-1.07},{"p":5,"s":"5K","k":"k","t":10,"v":-1.24},{"p":5,"s":"5K","k":"k","t":11,"v":-1.34},{"p":5,"s":"5K","k":"k","t":12.3,"v":-1.38},{"p":5,"s":"5K","k":"k","t":13.5,"v":-1.32},{"p":5,"s":"5K","k":"k","t":15,"v":-1.1},{"p":5,"s":"5K","k":"k","t":16.2,"v":-0.8},{"p":5,"s":"5K","k":"k","t":17.5,"v":-0.4},{"p":5,"s":"5K","k":"k","t":19,"v":0.08},{"p":5,"s":"5K","k":"k","t":21,"v":0.65},{"p":5,"s":"5K","k":"k","t":23,"v":1.15},{"p":5,"s":"5K","k":"k","t":25,"v":1.58},{"p":5,"s":"5K","k":"k","t":27,"v":1.86},{"p":5,"s":"5K","k":"k","t":29,"v":1.98},{"p":5,"s":"5K","k":"k","t":30.6,"v":2.0},{"p":5,"s":"5K","k":"k","t":32,"v":1.95},{"p":5,"s":"5K","k":"k","t":34,"v":1.78},{"p":5,"s":"5K","k":"k","t":36,"v":1.52},{"p":5,"s":"5K","k":"k","t":38,"v":1.18},{"p":5,"s":"5K","k":"k","t":40,"v":0.8},{"p":5,"s":"5K","k":"k","t":42,"v":0.43},{"p":5,"s":"5K","k":"k","t":44,"v":0.1},{"p":5,"s":"5K","k":"k","t":46,"v":-0.18},{"p":5,"s":"5K","k":"k","t":48,"v":-0.4},{"p":5,"s":"5K","k":"k","t":50,"v":-0.56},{"p":5,"s":"5K","k":"k","t":52,"v":-0.66},{"p":5,"s":"5K","k":"k","t":54,"v":-0.69},{"p":5,"s":"5K","k":"k","t":56,"v":-0.65},{"p":5,"s":"5K","k":"k","t":58,"v":-0.55},{"p":5,"s":"5K","k":"k","t":61,"v":-0.38},{"p":5,"s":"5K","k":"k","t":64,"v":-0.23},{"p":5,"s":"5K","k":"k","t":67,"v":-0.12},{"p":5,"s":"5K","k":"k","t":70,"v":-0.05},{"p":5,"s":"5K","k":"k","t":73,"v":-0.01},{"p":5,"s":"5K","k":"k","t":76,"v":0},
{"p":6,"s":"6K","k":"k","t":1,"v":-0.6},{"p":6,"s":"6K","k":"k","t":5,"v":-0.41},{"p":6,"s":"6K","k":"k","t":10,"v":-0.18},{"p":6,"s":"6K","k":"k","t":15,"v":0.04},{"p":6,"s":"6K","k":"k","t":20,"v":0.25},{"p":6,"s":"6K","k":"k","t":25,"v":0.45},{"p":6,"s":"6K","k":"k","t":30,"v":0.65},{"p":6,"s":"6K","k":"k","t":35,"v":0.85},{"p":6,"s":"6K","k":"k","t":40,"v":1.04},{"p":6,"s":"6K","k":"k","t":45,"v":1.23},{"p":6,"s":"6K","k":"k","t":50,"v":1.41},{"p":6,"s":"6K","k":"k","t":53,"v":1.5},{"p":6,"s":"6K","k":"k","t":56,"v":1.56},{"p":6,"s":"6K","k":"k","t":58,"v":1.57},{"p":6,"s":"6K","k":"k","t":60,"v":1.54},{"p":6,"s":"6K","k":"k","t":62,"v":1.47},{"p":6,"s":"6K","k":"k","t":64,"v":1.36},{"p":6,"s":"6K","k":"k","t":66,"v":1.2},{"p":6,"s":"6K","k":"k","t":68,"v":1.0},{"p":6,"s":"6K","k":"k","t":70,"v":0.77},{"p":6,"s":"6K","k":"k","t":72,"v":0.5},{"p":6,"s":"6K","k":"k","t":74,"v":0.19},{"p":6,"s":"6K","k":"k","t":76,"v":-0.15}
]},
"concat": [
 {"title": "Cluster 1", "width": 245, "height": 213, "transform": [{"filter": "datum.p == 1"}],
  "mark": {"type": "line", "strokeWidth": 1.5, "interpolate": "catmull-rom", "clip": true},
  "encoding": {
   "x": {"field": "t", "type": "quantitative", "scale": {"domain": [-2, 79], "nice": false, "zero": false}, "axis": {"values": [0, 20, 40, 60], "title": "time"}},
   "y": {"field": "v", "type": "quantitative", "scale": {"domain": [-1.28, 5.33], "nice": false, "zero": false}, "axis": {"values": [-1, 0, 1, 2, 3, 4, 5], "format": "d", "title": "time–varying coefficients"}},
   "color": {"field": "k", "type": "nominal", "scale": {"domain": ["k", "r", "g", "b", "c", "m"], "range": ["#000000", "#DF536B", "#61D04F", "#2297E6", "#28E2E5", "#CD0BBC"]}, "legend": null},
   "detail": {"field": "s"}}},
 {"title": "Cluster 2", "width": 245, "height": 213, "transform": [{"filter": "datum.p == 2"}],
  "mark": {"type": "line", "strokeWidth": 1.5, "interpolate": "catmull-rom", "clip": true},
  "encoding": {
   "x": {"field": "t", "type": "quantitative", "scale": {"domain": [-2, 79], "nice": false, "zero": false}, "axis": {"values": [0, 20, 40, 60], "title": "time"}},
   "y": {"field": "v", "type": "quantitative", "scale": {"domain": [-5.07, 1.63], "nice": false, "zero": false}, "axis": {"values": [-5, -4, -3, -2, -1, 0, 1], "format": "d", "title": "time–varying coefficients"}},
   "color": {"field": "k", "type": "nominal", "scale": {"domain": ["k", "r", "g", "b", "c", "m"], "range": ["#000000", "#DF536B", "#61D04F", "#2297E6", "#28E2E5", "#CD0BBC"]}, "legend": null},
   "detail": {"field": "s"}}},
 {"title": "Cluster 3", "width": 245, "height": 213, "transform": [{"filter": "datum.p == 3"}],
  "mark": {"type": "line", "strokeWidth": 1.5, "interpolate": "catmull-rom", "clip": true},
  "encoding": {
   "x": {"field": "t", "type": "quantitative", "scale": {"domain": [-2, 79], "nice": false, "zero": false}, "axis": {"values": [0, 20, 40, 60], "title": "time"}},
   "y": {"field": "v", "type": "quantitative", "scale": {"domain": [-3.4, 2.55], "nice": false, "zero": false}, "axis": {"values": [-3, -2, -1, 0, 1, 2], "format": "d", "title": "time–varying coefficients"}},
   "color": {"field": "k", "type": "nominal", "scale": {"domain": ["k", "r", "g", "b", "c", "m"], "range": ["#000000", "#DF536B", "#61D04F", "#2297E6", "#28E2E5", "#CD0BBC"]}, "legend": null},
   "detail": {"field": "s"}}},
 {"title": "Cluster 4", "width": 245, "height": 213, "transform": [{"filter": "datum.p == 4"}],
  "mark": {"type": "line", "strokeWidth": 1.5, "interpolate": "catmull-rom", "clip": true},
  "encoding": {
   "x": {"field": "t", "type": "quantitative", "scale": {"domain": [-2, 79], "nice": false, "zero": false}, "axis": {"values": [0, 20, 40, 60], "title": "time"}},
   "y": {"field": "v", "type": "quantitative", "scale": {"domain": [-3.1, 5.23], "nice": false, "zero": false}, "axis": {"values": [-2, 0, 2, 4], "format": "d", "title": "time–varying coefficients"}},
   "color": {"field": "k", "type": "nominal", "scale": {"domain": ["k", "r", "g", "b", "c", "m"], "range": ["#000000", "#DF536B", "#61D04F", "#2297E6", "#28E2E5", "#CD0BBC"]}, "legend": null},
   "detail": {"field": "s"}}},
 {"title": "Cluster 5", "width": 245, "height": 213, "transform": [{"filter": "datum.p == 5"}],
  "mark": {"type": "line", "strokeWidth": 1.5, "interpolate": "catmull-rom", "clip": true},
  "encoding": {
   "x": {"field": "t", "type": "quantitative", "scale": {"domain": [-2, 79], "nice": false, "zero": false}, "axis": {"values": [0, 20, 40, 60], "title": "time"}},
   "y": {"field": "v", "type": "quantitative", "scale": {"domain": [-1.52, 2.22], "nice": false, "zero": false}, "axis": {"values": [-1.5, -1, -0.5, 0, 0.5, 1, 1.5, 2], "format": ".1f", "labelExpr": "abs(datum.value * 2) % 2 == 1 ? datum.label : ''", "title": "time–varying coefficients"}},
   "color": {"field": "k", "type": "nominal", "scale": {"domain": ["k", "r", "g", "b", "c", "m"], "range": ["#000000", "#DF536B", "#61D04F", "#2297E6", "#28E2E5", "#CD0BBC"]}, "legend": null},
   "detail": {"field": "s"}}},
 {"title": "Cluster 6", "width": 245, "height": 213, "transform": [{"filter": "datum.p == 6"}],
  "mark": {"type": "line", "strokeWidth": 1.5, "interpolate": "catmull-rom", "clip": true},
  "encoding": {
   "x": {"field": "t", "type": "quantitative", "scale": {"domain": [-2, 79], "nice": false, "zero": false}, "axis": {"values": [0, 20, 40, 60], "title": "time"}},
   "y": {"field": "v", "type": "quantitative", "scale": {"domain": [-0.69, 1.67], "nice": false, "zero": false}, "axis": {"values": [-0.5, 0, 0.5, 1, 1.5], "format": ".1f", "title": "time–varying coefficients"}},
   "color": {"field": "k", "type": "nominal", "scale": {"domain": ["k", "r", "g", "b", "c", "m"], "range": ["#000000", "#DF536B", "#61D04F", "#2297E6", "#28E2E5", "#CD0BBC"]}, "legend": null},
   "detail": {"field": "s"}}}
]
}
